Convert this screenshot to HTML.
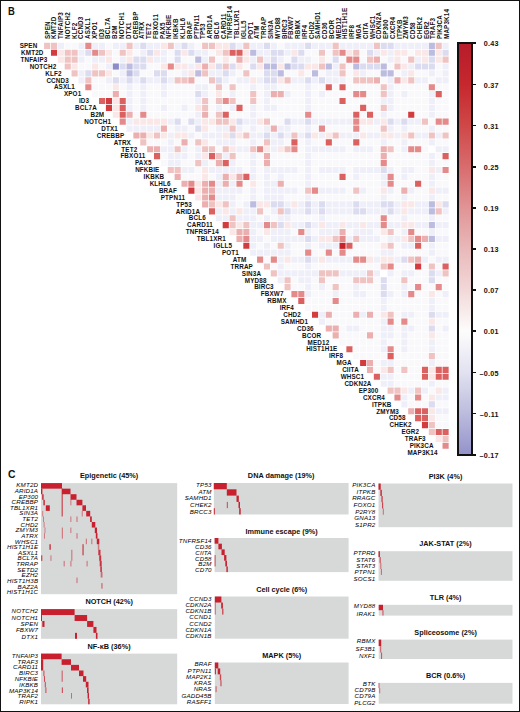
<!DOCTYPE html><html><head><meta charset="utf-8"><style>
*{margin:0;padding:0;box-sizing:border-box}
html,body{width:520px;height:712px;background:#fff;overflow:hidden}
body{position:relative;font-family:"Liberation Sans",sans-serif;color:#111}
#frame{position:absolute;left:0;top:0;width:520px;height:712px;border:1.2px solid #111}
.a{position:absolute;white-space:nowrap}
.rl{font-weight:bold;font-size:6.3px;line-height:6.3px;text-align:right;width:80px;letter-spacing:0.15px}
.cl{font-weight:bold;font-size:6.3px;line-height:6.3px;transform-origin:0 0;transform:rotate(-90deg);letter-spacing:0.15px}
.c{position:absolute}
.tk{font-weight:bold;font-size:7.2px;line-height:7.2px;text-align:right;width:30px;letter-spacing:0.3px}
.tt{font-weight:bold;font-size:7.3px;line-height:7.5px;text-align:center;width:140px}
.gl{font-style:italic;font-size:6.2px;line-height:6.2px;text-align:right;width:60px;color:#000;letter-spacing:0.2px}
.g{position:absolute;background:#d7d9d9}
.m{position:absolute;background:#c8202e}

</style></head><body>
<div id="frame"></div>
<div class="a" style="left:7.9px;top:4.6px;font-weight:bold;font-size:11.8px;line-height:12px;transform:scaleX(0.8);transform-origin:0 0">B</div>
<div class="a" style="left:7.6px;top:468.4px;font-weight:bold;font-size:11.8px;line-height:12px;transform:scaleX(0.88);transform-origin:0 0">C</div>
<svg class="a" style="left:0;top:0" width="520" height="460" viewBox="0 0 520 460"><path fill="#f0c3c3" d="M44.08 42.77h6.12v6.14h-6.12zM50.95 42.77h6.12v6.14h-6.12zM126.52 42.77h6.12v6.14h-6.12zM167.74 42.77h6.12v6.14h-6.12zM202.08 42.77h6.12v6.14h-6.12zM208.95 42.77h6.12v6.14h-6.12zM243.31 42.77h6.12v6.14h-6.12zM332.62 42.77h6.12v6.14h-6.12zM373.83 42.77h6.12v6.14h-6.12zM435.67 42.77h6.12v6.14h-6.12zM64.69 49.67h6.12v6.14h-6.12zM71.56 49.67h6.12v6.14h-6.12zM99.03 49.67h6.12v6.14h-6.12zM119.65 49.67h6.12v6.14h-6.12zM222.69 49.67h6.12v6.14h-6.12zM318.88 49.67h6.12v6.14h-6.12zM332.62 49.67h6.12v6.14h-6.12zM353.22 49.67h6.12v6.14h-6.12zM64.69 56.56h6.12v6.14h-6.12zM71.56 56.56h6.12v6.14h-6.12zM208.95 56.56h6.12v6.14h-6.12zM257.05 56.56h6.12v6.14h-6.12zM366.96 56.56h6.12v6.14h-6.12zM408.19 56.56h6.12v6.14h-6.12zM442.53 56.56h6.12v6.14h-6.12zM64.69 63.46h6.12v6.14h-6.12zM222.69 63.46h6.12v6.14h-6.12zM318.88 63.46h6.12v6.14h-6.12zM339.49 63.46h6.12v6.14h-6.12zM394.44 63.46h6.12v6.14h-6.12zM71.56 70.35h6.12v6.14h-6.12zM92.17 70.35h6.12v6.14h-6.12zM99.03 70.35h6.12v6.14h-6.12zM202.08 70.35h6.12v6.14h-6.12zM243.31 70.35h6.12v6.14h-6.12zM339.49 70.35h6.12v6.14h-6.12zM85.30 77.25h6.12v6.14h-6.12zM174.61 77.25h6.12v6.14h-6.12zM181.48 77.25h6.12v6.14h-6.12zM208.95 77.25h6.12v6.14h-6.12zM284.53 77.25h6.12v6.14h-6.12zM353.22 77.25h6.12v6.14h-6.12zM360.09 77.25h6.12v6.14h-6.12zM366.96 77.25h6.12v6.14h-6.12zM408.19 77.25h6.12v6.14h-6.12zM215.82 84.14h6.12v6.14h-6.12zM229.56 84.14h6.12v6.14h-6.12zM380.70 84.14h6.12v6.14h-6.12zM250.18 91.04h6.12v6.14h-6.12zM380.70 91.04h6.12v6.14h-6.12zM202.08 97.94h6.12v6.14h-6.12zM215.82 97.94h6.12v6.14h-6.12zM229.56 97.94h6.12v6.14h-6.12zM250.18 97.94h6.12v6.14h-6.12zM202.08 104.83h6.12v6.14h-6.12zM380.70 104.83h6.12v6.14h-6.12zM215.82 111.72h6.12v6.14h-6.12zM215.82 118.62h6.12v6.14h-6.12zM222.69 118.62h6.12v6.14h-6.12zM263.92 118.62h6.12v6.14h-6.12zM421.93 118.62h6.12v6.14h-6.12zM229.56 125.51h6.12v6.14h-6.12zM380.70 125.51h6.12v6.14h-6.12zM154.00 132.41h6.12v6.14h-6.12zM243.31 132.41h6.12v6.14h-6.12zM291.39 132.41h6.12v6.14h-6.12zM332.62 132.41h6.12v6.14h-6.12zM408.19 132.41h6.12v6.14h-6.12zM428.80 132.41h6.12v6.14h-6.12zM442.53 132.41h6.12v6.14h-6.12zM140.25 139.31h6.12v6.14h-6.12zM195.22 139.31h6.12v6.14h-6.12zM263.92 139.31h6.12v6.14h-6.12zM174.61 146.20h6.12v6.14h-6.12zM202.08 146.20h6.12v6.14h-6.12zM208.95 146.20h6.12v6.14h-6.12zM222.69 146.20h6.12v6.14h-6.12zM250.18 146.20h6.12v6.14h-6.12zM284.53 146.20h6.12v6.14h-6.12zM387.57 146.20h6.12v6.14h-6.12zM215.82 153.09h6.12v6.14h-6.12zM229.56 153.09h6.12v6.14h-6.12zM195.22 159.99h6.12v6.14h-6.12zM167.74 166.88h6.12v6.14h-6.12zM174.61 166.88h6.12v6.14h-6.12zM305.13 187.57h6.12v6.14h-6.12zM353.22 187.57h6.12v6.14h-6.12zM208.95 201.36h6.12v6.14h-6.12zM222.69 201.36h6.12v6.14h-6.12zM257.05 208.25h6.12v6.14h-6.12zM277.66 208.25h6.12v6.14h-6.12zM435.67 208.25h6.12v6.14h-6.12zM229.56 215.15h6.12v6.14h-6.12zM229.56 222.04h6.12v6.14h-6.12zM243.31 222.04h6.12v6.14h-6.12zM270.79 222.04h6.12v6.14h-6.12zM387.57 228.94h6.12v6.14h-6.12zM332.62 235.84h6.12v6.14h-6.12zM353.22 235.84h6.12v6.14h-6.12zM408.19 235.84h6.12v6.14h-6.12zM277.66 242.73h6.12v6.14h-6.12zM387.57 242.73h6.12v6.14h-6.12zM408.19 256.52h6.12v6.14h-6.12zM263.92 263.41h6.12v6.14h-6.12zM380.70 263.41h6.12v6.14h-6.12zM428.80 263.41h6.12v6.14h-6.12zM270.79 270.31h6.12v6.14h-6.12zM318.88 270.31h6.12v6.14h-6.12zM325.75 270.31h6.12v6.14h-6.12zM332.62 270.31h6.12v6.14h-6.12zM366.96 270.31h6.12v6.14h-6.12zM442.53 270.31h6.12v6.14h-6.12zM284.53 277.20h6.12v6.14h-6.12zM318.88 277.20h6.12v6.14h-6.12zM353.22 277.20h6.12v6.14h-6.12zM360.09 277.20h6.12v6.14h-6.12zM366.96 277.20h6.12v6.14h-6.12zM401.31 277.20h6.12v6.14h-6.12zM284.53 284.10h6.12v6.14h-6.12zM332.62 284.10h6.12v6.14h-6.12zM387.57 311.68h6.12v6.14h-6.12zM428.80 353.05h6.12v6.14h-6.12zM387.57 366.84h6.12v6.14h-6.12zM401.31 366.84h6.12v6.14h-6.12zM387.57 387.52h6.12v6.14h-6.12zM394.44 387.52h6.12v6.14h-6.12zM415.06 387.52h6.12v6.14h-6.12zM428.80 422.00h6.12v6.14h-6.12zM428.80 428.89h6.12v6.14h-6.12zM442.53 435.79h6.12v6.14h-6.12z"/><path fill="#efeff9" d="M57.82 42.77h6.12v6.14h-6.12zM78.43 42.77h6.12v6.14h-6.12zM92.17 42.77h6.12v6.14h-6.12zM99.03 42.77h6.12v6.14h-6.12zM112.78 42.77h6.12v6.14h-6.12zM119.65 42.77h6.12v6.14h-6.12zM133.38 42.77h6.12v6.14h-6.12zM147.12 42.77h6.12v6.14h-6.12zM154.00 42.77h6.12v6.14h-6.12zM174.61 42.77h6.12v6.14h-6.12zM188.35 42.77h6.12v6.14h-6.12zM236.44 42.77h6.12v6.14h-6.12zM250.18 42.77h6.12v6.14h-6.12zM257.05 42.77h6.12v6.14h-6.12zM270.79 42.77h6.12v6.14h-6.12zM284.53 42.77h6.12v6.14h-6.12zM291.39 42.77h6.12v6.14h-6.12zM298.26 42.77h6.12v6.14h-6.12zM312.00 42.77h6.12v6.14h-6.12zM318.88 42.77h6.12v6.14h-6.12zM325.75 42.77h6.12v6.14h-6.12zM339.49 42.77h6.12v6.14h-6.12zM346.36 42.77h6.12v6.14h-6.12zM353.22 42.77h6.12v6.14h-6.12zM360.09 42.77h6.12v6.14h-6.12zM366.96 42.77h6.12v6.14h-6.12zM394.44 42.77h6.12v6.14h-6.12zM401.31 42.77h6.12v6.14h-6.12zM408.19 42.77h6.12v6.14h-6.12zM415.06 42.77h6.12v6.14h-6.12zM421.93 42.77h6.12v6.14h-6.12zM442.53 42.77h6.12v6.14h-6.12zM78.43 49.67h6.12v6.14h-6.12zM140.25 49.67h6.12v6.14h-6.12zM160.87 49.67h6.12v6.14h-6.12zM195.22 49.67h6.12v6.14h-6.12zM202.08 49.67h6.12v6.14h-6.12zM257.05 49.67h6.12v6.14h-6.12zM263.92 49.67h6.12v6.14h-6.12zM284.53 49.67h6.12v6.14h-6.12zM373.83 49.67h6.12v6.14h-6.12zM387.57 49.67h6.12v6.14h-6.12zM78.43 56.56h6.12v6.14h-6.12zM92.17 56.56h6.12v6.14h-6.12zM99.03 56.56h6.12v6.14h-6.12zM119.65 56.56h6.12v6.14h-6.12zM154.00 56.56h6.12v6.14h-6.12zM160.87 56.56h6.12v6.14h-6.12zM202.08 56.56h6.12v6.14h-6.12zM250.18 56.56h6.12v6.14h-6.12zM263.92 56.56h6.12v6.14h-6.12zM277.66 56.56h6.12v6.14h-6.12zM298.26 56.56h6.12v6.14h-6.12zM305.13 56.56h6.12v6.14h-6.12zM387.57 56.56h6.12v6.14h-6.12zM415.06 56.56h6.12v6.14h-6.12zM105.91 63.46h6.12v6.14h-6.12zM188.35 63.46h6.12v6.14h-6.12zM332.62 63.46h6.12v6.14h-6.12zM408.19 63.46h6.12v6.14h-6.12zM442.53 63.46h6.12v6.14h-6.12zM78.43 70.35h6.12v6.14h-6.12zM119.65 70.35h6.12v6.14h-6.12zM181.48 70.35h6.12v6.14h-6.12zM208.95 70.35h6.12v6.14h-6.12zM215.82 70.35h6.12v6.14h-6.12zM229.56 70.35h6.12v6.14h-6.12zM325.75 70.35h6.12v6.14h-6.12zM332.62 70.35h6.12v6.14h-6.12zM360.09 70.35h6.12v6.14h-6.12zM401.31 70.35h6.12v6.14h-6.12zM428.80 70.35h6.12v6.14h-6.12zM442.53 70.35h6.12v6.14h-6.12zM78.43 77.25h6.12v6.14h-6.12zM105.91 77.25h6.12v6.14h-6.12zM119.65 77.25h6.12v6.14h-6.12zM133.38 77.25h6.12v6.14h-6.12zM147.12 77.25h6.12v6.14h-6.12zM154.00 77.25h6.12v6.14h-6.12zM167.74 77.25h6.12v6.14h-6.12zM222.69 77.25h6.12v6.14h-6.12zM236.44 77.25h6.12v6.14h-6.12zM243.31 77.25h6.12v6.14h-6.12zM257.05 77.25h6.12v6.14h-6.12zM291.39 77.25h6.12v6.14h-6.12zM298.26 77.25h6.12v6.14h-6.12zM312.00 77.25h6.12v6.14h-6.12zM325.75 77.25h6.12v6.14h-6.12zM332.62 77.25h6.12v6.14h-6.12zM339.49 77.25h6.12v6.14h-6.12zM387.57 77.25h6.12v6.14h-6.12zM415.06 77.25h6.12v6.14h-6.12zM421.93 77.25h6.12v6.14h-6.12zM435.67 77.25h6.12v6.14h-6.12zM442.53 77.25h6.12v6.14h-6.12zM126.52 84.14h6.12v6.14h-6.12zM140.25 84.14h6.12v6.14h-6.12zM160.87 84.14h6.12v6.14h-6.12zM195.22 84.14h6.12v6.14h-6.12zM202.08 84.14h6.12v6.14h-6.12zM250.18 84.14h6.12v6.14h-6.12zM263.92 84.14h6.12v6.14h-6.12zM270.79 84.14h6.12v6.14h-6.12zM305.13 84.14h6.12v6.14h-6.12zM387.57 84.14h6.12v6.14h-6.12zM126.52 91.04h6.12v6.14h-6.12zM140.25 91.04h6.12v6.14h-6.12zM160.87 91.04h6.12v6.14h-6.12zM202.08 91.04h6.12v6.14h-6.12zM229.56 91.04h6.12v6.14h-6.12zM263.92 91.04h6.12v6.14h-6.12zM284.53 91.04h6.12v6.14h-6.12zM305.13 91.04h6.12v6.14h-6.12zM318.88 91.04h6.12v6.14h-6.12zM387.57 91.04h6.12v6.14h-6.12zM401.31 91.04h6.12v6.14h-6.12zM428.80 91.04h6.12v6.14h-6.12zM126.52 97.94h6.12v6.14h-6.12zM140.25 97.94h6.12v6.14h-6.12zM195.22 97.94h6.12v6.14h-6.12zM263.92 97.94h6.12v6.14h-6.12zM305.13 97.94h6.12v6.14h-6.12zM380.70 97.94h6.12v6.14h-6.12zM387.57 97.94h6.12v6.14h-6.12zM428.80 97.94h6.12v6.14h-6.12zM126.52 104.83h6.12v6.14h-6.12zM140.25 104.83h6.12v6.14h-6.12zM160.87 104.83h6.12v6.14h-6.12zM181.48 104.83h6.12v6.14h-6.12zM215.82 104.83h6.12v6.14h-6.12zM229.56 104.83h6.12v6.14h-6.12zM250.18 104.83h6.12v6.14h-6.12zM263.92 104.83h6.12v6.14h-6.12zM270.79 104.83h6.12v6.14h-6.12zM305.13 104.83h6.12v6.14h-6.12zM387.57 104.83h6.12v6.14h-6.12zM428.80 104.83h6.12v6.14h-6.12zM195.22 111.72h6.12v6.14h-6.12zM250.18 111.72h6.12v6.14h-6.12zM380.70 111.72h6.12v6.14h-6.12zM428.80 111.72h6.12v6.14h-6.12zM126.52 118.62h6.12v6.14h-6.12zM167.74 118.62h6.12v6.14h-6.12zM195.22 118.62h6.12v6.14h-6.12zM243.31 118.62h6.12v6.14h-6.12zM250.18 118.62h6.12v6.14h-6.12zM291.39 118.62h6.12v6.14h-6.12zM298.26 118.62h6.12v6.14h-6.12zM312.00 118.62h6.12v6.14h-6.12zM318.88 118.62h6.12v6.14h-6.12zM325.75 118.62h6.12v6.14h-6.12zM332.62 118.62h6.12v6.14h-6.12zM339.49 118.62h6.12v6.14h-6.12zM346.36 118.62h6.12v6.14h-6.12zM373.83 118.62h6.12v6.14h-6.12zM394.44 118.62h6.12v6.14h-6.12zM408.19 118.62h6.12v6.14h-6.12zM415.06 118.62h6.12v6.14h-6.12zM126.52 125.51h6.12v6.14h-6.12zM133.38 125.51h6.12v6.14h-6.12zM140.25 125.51h6.12v6.14h-6.12zM147.12 125.51h6.12v6.14h-6.12zM154.00 125.51h6.12v6.14h-6.12zM174.61 125.51h6.12v6.14h-6.12zM181.48 125.51h6.12v6.14h-6.12zM215.82 125.51h6.12v6.14h-6.12zM222.69 125.51h6.12v6.14h-6.12zM236.44 125.51h6.12v6.14h-6.12zM250.18 125.51h6.12v6.14h-6.12zM263.92 125.51h6.12v6.14h-6.12zM277.66 125.51h6.12v6.14h-6.12zM284.53 125.51h6.12v6.14h-6.12zM305.13 125.51h6.12v6.14h-6.12zM387.57 125.51h6.12v6.14h-6.12zM401.31 125.51h6.12v6.14h-6.12zM428.80 125.51h6.12v6.14h-6.12zM167.74 132.41h6.12v6.14h-6.12zM188.35 132.41h6.12v6.14h-6.12zM202.08 132.41h6.12v6.14h-6.12zM208.95 132.41h6.12v6.14h-6.12zM215.82 132.41h6.12v6.14h-6.12zM250.18 132.41h6.12v6.14h-6.12zM257.05 132.41h6.12v6.14h-6.12zM270.79 132.41h6.12v6.14h-6.12zM284.53 132.41h6.12v6.14h-6.12zM298.26 132.41h6.12v6.14h-6.12zM318.88 132.41h6.12v6.14h-6.12zM339.49 132.41h6.12v6.14h-6.12zM346.36 132.41h6.12v6.14h-6.12zM353.22 132.41h6.12v6.14h-6.12zM366.96 132.41h6.12v6.14h-6.12zM373.83 132.41h6.12v6.14h-6.12zM394.44 132.41h6.12v6.14h-6.12zM415.06 132.41h6.12v6.14h-6.12zM421.93 132.41h6.12v6.14h-6.12zM435.67 132.41h6.12v6.14h-6.12zM167.74 139.31h6.12v6.14h-6.12zM215.82 139.31h6.12v6.14h-6.12zM222.69 139.31h6.12v6.14h-6.12zM229.56 139.31h6.12v6.14h-6.12zM250.18 139.31h6.12v6.14h-6.12zM270.79 139.31h6.12v6.14h-6.12zM277.66 139.31h6.12v6.14h-6.12zM305.13 139.31h6.12v6.14h-6.12zM380.70 139.31h6.12v6.14h-6.12zM401.31 139.31h6.12v6.14h-6.12zM428.80 139.31h6.12v6.14h-6.12zM160.87 146.20h6.12v6.14h-6.12zM167.74 146.20h6.12v6.14h-6.12zM181.48 146.20h6.12v6.14h-6.12zM195.22 146.20h6.12v6.14h-6.12zM236.44 146.20h6.12v6.14h-6.12zM243.31 146.20h6.12v6.14h-6.12zM270.79 146.20h6.12v6.14h-6.12zM305.13 146.20h6.12v6.14h-6.12zM312.00 146.20h6.12v6.14h-6.12zM318.88 146.20h6.12v6.14h-6.12zM325.75 146.20h6.12v6.14h-6.12zM332.62 146.20h6.12v6.14h-6.12zM339.49 146.20h6.12v6.14h-6.12zM353.22 146.20h6.12v6.14h-6.12zM360.09 146.20h6.12v6.14h-6.12zM366.96 146.20h6.12v6.14h-6.12zM401.31 146.20h6.12v6.14h-6.12zM435.67 146.20h6.12v6.14h-6.12zM442.53 146.20h6.12v6.14h-6.12zM167.74 153.09h6.12v6.14h-6.12zM174.61 153.09h6.12v6.14h-6.12zM181.48 153.09h6.12v6.14h-6.12zM195.22 153.09h6.12v6.14h-6.12zM222.69 153.09h6.12v6.14h-6.12zM250.18 153.09h6.12v6.14h-6.12zM305.13 153.09h6.12v6.14h-6.12zM428.80 153.09h6.12v6.14h-6.12zM167.74 159.99h6.12v6.14h-6.12zM174.61 159.99h6.12v6.14h-6.12zM202.08 159.99h6.12v6.14h-6.12zM229.56 159.99h6.12v6.14h-6.12zM250.18 159.99h6.12v6.14h-6.12zM305.13 159.99h6.12v6.14h-6.12zM428.80 159.99h6.12v6.14h-6.12zM181.48 166.88h6.12v6.14h-6.12zM188.35 166.88h6.12v6.14h-6.12zM208.95 166.88h6.12v6.14h-6.12zM215.82 166.88h6.12v6.14h-6.12zM222.69 166.88h6.12v6.14h-6.12zM229.56 166.88h6.12v6.14h-6.12zM236.44 166.88h6.12v6.14h-6.12zM250.18 166.88h6.12v6.14h-6.12zM263.92 166.88h6.12v6.14h-6.12zM270.79 166.88h6.12v6.14h-6.12zM277.66 166.88h6.12v6.14h-6.12zM284.53 166.88h6.12v6.14h-6.12zM291.39 166.88h6.12v6.14h-6.12zM305.13 166.88h6.12v6.14h-6.12zM318.88 166.88h6.12v6.14h-6.12zM325.75 166.88h6.12v6.14h-6.12zM332.62 166.88h6.12v6.14h-6.12zM339.49 166.88h6.12v6.14h-6.12zM353.22 166.88h6.12v6.14h-6.12zM360.09 166.88h6.12v6.14h-6.12zM366.96 166.88h6.12v6.14h-6.12zM373.83 166.88h6.12v6.14h-6.12zM387.57 166.88h6.12v6.14h-6.12zM401.31 166.88h6.12v6.14h-6.12zM408.19 166.88h6.12v6.14h-6.12zM435.67 166.88h6.12v6.14h-6.12zM215.82 173.78h6.12v6.14h-6.12zM250.18 173.78h6.12v6.14h-6.12zM263.92 173.78h6.12v6.14h-6.12zM277.66 173.78h6.12v6.14h-6.12zM305.13 173.78h6.12v6.14h-6.12zM353.22 173.78h6.12v6.14h-6.12zM380.70 173.78h6.12v6.14h-6.12zM401.31 173.78h6.12v6.14h-6.12zM428.80 173.78h6.12v6.14h-6.12zM215.82 180.67h6.12v6.14h-6.12zM229.56 180.67h6.12v6.14h-6.12zM263.92 180.67h6.12v6.14h-6.12zM270.79 180.67h6.12v6.14h-6.12zM305.13 180.67h6.12v6.14h-6.12zM380.70 180.67h6.12v6.14h-6.12zM428.80 180.67h6.12v6.14h-6.12zM215.82 187.57h6.12v6.14h-6.12zM222.69 187.57h6.12v6.14h-6.12zM229.56 187.57h6.12v6.14h-6.12zM236.44 187.57h6.12v6.14h-6.12zM250.18 187.57h6.12v6.14h-6.12zM263.92 187.57h6.12v6.14h-6.12zM270.79 187.57h6.12v6.14h-6.12zM277.66 187.57h6.12v6.14h-6.12zM284.53 187.57h6.12v6.14h-6.12zM291.39 187.57h6.12v6.14h-6.12zM318.88 187.57h6.12v6.14h-6.12zM325.75 187.57h6.12v6.14h-6.12zM332.62 187.57h6.12v6.14h-6.12zM339.49 187.57h6.12v6.14h-6.12zM360.09 187.57h6.12v6.14h-6.12zM387.57 187.57h6.12v6.14h-6.12zM408.19 187.57h6.12v6.14h-6.12zM435.67 187.57h6.12v6.14h-6.12zM442.53 187.57h6.12v6.14h-6.12zM215.82 194.47h6.12v6.14h-6.12zM222.69 194.47h6.12v6.14h-6.12zM229.56 194.47h6.12v6.14h-6.12zM250.18 194.47h6.12v6.14h-6.12zM263.92 194.47h6.12v6.14h-6.12zM270.79 194.47h6.12v6.14h-6.12zM277.66 194.47h6.12v6.14h-6.12zM305.13 194.47h6.12v6.14h-6.12zM380.70 194.47h6.12v6.14h-6.12zM401.31 194.47h6.12v6.14h-6.12zM428.80 194.47h6.12v6.14h-6.12zM229.56 201.36h6.12v6.14h-6.12zM243.31 201.36h6.12v6.14h-6.12zM284.53 201.36h6.12v6.14h-6.12zM298.26 201.36h6.12v6.14h-6.12zM312.00 201.36h6.12v6.14h-6.12zM325.75 201.36h6.12v6.14h-6.12zM332.62 201.36h6.12v6.14h-6.12zM339.49 201.36h6.12v6.14h-6.12zM346.36 201.36h6.12v6.14h-6.12zM360.09 201.36h6.12v6.14h-6.12zM366.96 201.36h6.12v6.14h-6.12zM373.83 201.36h6.12v6.14h-6.12zM394.44 201.36h6.12v6.14h-6.12zM415.06 201.36h6.12v6.14h-6.12zM421.93 201.36h6.12v6.14h-6.12zM215.82 208.25h6.12v6.14h-6.12zM229.56 208.25h6.12v6.14h-6.12zM243.31 208.25h6.12v6.14h-6.12zM250.18 208.25h6.12v6.14h-6.12zM270.79 208.25h6.12v6.14h-6.12zM291.39 208.25h6.12v6.14h-6.12zM298.26 208.25h6.12v6.14h-6.12zM312.00 208.25h6.12v6.14h-6.12zM325.75 208.25h6.12v6.14h-6.12zM332.62 208.25h6.12v6.14h-6.12zM339.49 208.25h6.12v6.14h-6.12zM346.36 208.25h6.12v6.14h-6.12zM366.96 208.25h6.12v6.14h-6.12zM373.83 208.25h6.12v6.14h-6.12zM380.70 208.25h6.12v6.14h-6.12zM394.44 208.25h6.12v6.14h-6.12zM408.19 208.25h6.12v6.14h-6.12zM415.06 208.25h6.12v6.14h-6.12zM421.93 208.25h6.12v6.14h-6.12zM442.53 208.25h6.12v6.14h-6.12zM215.82 215.15h6.12v6.14h-6.12zM222.69 215.15h6.12v6.14h-6.12zM236.44 215.15h6.12v6.14h-6.12zM243.31 215.15h6.12v6.14h-6.12zM250.18 215.15h6.12v6.14h-6.12zM263.92 215.15h6.12v6.14h-6.12zM277.66 215.15h6.12v6.14h-6.12zM284.53 215.15h6.12v6.14h-6.12zM318.88 215.15h6.12v6.14h-6.12zM401.31 215.15h6.12v6.14h-6.12zM428.80 215.15h6.12v6.14h-6.12zM250.18 222.04h6.12v6.14h-6.12zM257.05 222.04h6.12v6.14h-6.12zM291.39 222.04h6.12v6.14h-6.12zM298.26 222.04h6.12v6.14h-6.12zM312.00 222.04h6.12v6.14h-6.12zM325.75 222.04h6.12v6.14h-6.12zM332.62 222.04h6.12v6.14h-6.12zM346.36 222.04h6.12v6.14h-6.12zM353.22 222.04h6.12v6.14h-6.12zM366.96 222.04h6.12v6.14h-6.12zM373.83 222.04h6.12v6.14h-6.12zM387.57 222.04h6.12v6.14h-6.12zM394.44 222.04h6.12v6.14h-6.12zM415.06 222.04h6.12v6.14h-6.12zM421.93 222.04h6.12v6.14h-6.12zM435.67 222.04h6.12v6.14h-6.12zM442.53 222.04h6.12v6.14h-6.12zM250.18 228.94h6.12v6.14h-6.12zM270.79 228.94h6.12v6.14h-6.12zM277.66 228.94h6.12v6.14h-6.12zM284.53 228.94h6.12v6.14h-6.12zM305.13 228.94h6.12v6.14h-6.12zM318.88 228.94h6.12v6.14h-6.12zM325.75 228.94h6.12v6.14h-6.12zM332.62 228.94h6.12v6.14h-6.12zM353.22 228.94h6.12v6.14h-6.12zM360.09 228.94h6.12v6.14h-6.12zM366.96 228.94h6.12v6.14h-6.12zM401.31 228.94h6.12v6.14h-6.12zM428.80 228.94h6.12v6.14h-6.12zM250.18 235.84h6.12v6.14h-6.12zM257.05 235.84h6.12v6.14h-6.12zM270.79 235.84h6.12v6.14h-6.12zM277.66 235.84h6.12v6.14h-6.12zM284.53 235.84h6.12v6.14h-6.12zM291.39 235.84h6.12v6.14h-6.12zM298.26 235.84h6.12v6.14h-6.12zM312.00 235.84h6.12v6.14h-6.12zM346.36 235.84h6.12v6.14h-6.12zM360.09 235.84h6.12v6.14h-6.12zM366.96 235.84h6.12v6.14h-6.12zM373.83 235.84h6.12v6.14h-6.12zM387.57 235.84h6.12v6.14h-6.12zM394.44 235.84h6.12v6.14h-6.12zM435.67 235.84h6.12v6.14h-6.12zM442.53 235.84h6.12v6.14h-6.12zM250.18 242.73h6.12v6.14h-6.12zM263.92 242.73h6.12v6.14h-6.12zM284.53 242.73h6.12v6.14h-6.12zM305.13 242.73h6.12v6.14h-6.12zM318.88 242.73h6.12v6.14h-6.12zM325.75 242.73h6.12v6.14h-6.12zM332.62 242.73h6.12v6.14h-6.12zM401.31 242.73h6.12v6.14h-6.12zM408.19 242.73h6.12v6.14h-6.12zM428.80 242.73h6.12v6.14h-6.12zM250.18 249.62h6.12v6.14h-6.12zM257.05 249.62h6.12v6.14h-6.12zM263.92 249.62h6.12v6.14h-6.12zM270.79 249.62h6.12v6.14h-6.12zM277.66 249.62h6.12v6.14h-6.12zM284.53 249.62h6.12v6.14h-6.12zM380.70 249.62h6.12v6.14h-6.12zM387.57 249.62h6.12v6.14h-6.12zM428.80 249.62h6.12v6.14h-6.12zM277.66 256.52h6.12v6.14h-6.12zM291.39 256.52h6.12v6.14h-6.12zM298.26 256.52h6.12v6.14h-6.12zM312.00 256.52h6.12v6.14h-6.12zM325.75 256.52h6.12v6.14h-6.12zM332.62 256.52h6.12v6.14h-6.12zM339.49 256.52h6.12v6.14h-6.12zM346.36 256.52h6.12v6.14h-6.12zM373.83 256.52h6.12v6.14h-6.12zM394.44 256.52h6.12v6.14h-6.12zM421.93 256.52h6.12v6.14h-6.12zM435.67 256.52h6.12v6.14h-6.12zM442.53 256.52h6.12v6.14h-6.12zM277.66 263.41h6.12v6.14h-6.12zM305.13 263.41h6.12v6.14h-6.12zM277.66 270.31h6.12v6.14h-6.12zM284.53 270.31h6.12v6.14h-6.12zM291.39 270.31h6.12v6.14h-6.12zM298.26 270.31h6.12v6.14h-6.12zM305.13 270.31h6.12v6.14h-6.12zM312.00 270.31h6.12v6.14h-6.12zM339.49 270.31h6.12v6.14h-6.12zM346.36 270.31h6.12v6.14h-6.12zM353.22 270.31h6.12v6.14h-6.12zM360.09 270.31h6.12v6.14h-6.12zM373.83 270.31h6.12v6.14h-6.12zM387.57 270.31h6.12v6.14h-6.12zM401.31 270.31h6.12v6.14h-6.12zM408.19 270.31h6.12v6.14h-6.12zM435.67 270.31h6.12v6.14h-6.12zM277.66 277.20h6.12v6.14h-6.12zM298.26 277.20h6.12v6.14h-6.12zM305.13 277.20h6.12v6.14h-6.12zM305.13 284.10h6.12v6.14h-6.12zM318.88 284.10h6.12v6.14h-6.12zM353.22 284.10h6.12v6.14h-6.12zM401.31 284.10h6.12v6.14h-6.12zM305.13 290.99h6.12v6.14h-6.12zM332.62 290.99h6.12v6.14h-6.12zM353.22 290.99h6.12v6.14h-6.12zM360.09 290.99h6.12v6.14h-6.12zM387.57 290.99h6.12v6.14h-6.12zM401.31 290.99h6.12v6.14h-6.12zM442.53 290.99h6.12v6.14h-6.12zM380.70 297.89h6.12v6.14h-6.12zM428.80 297.89h6.12v6.14h-6.12zM380.70 304.78h6.12v6.14h-6.12zM428.80 304.78h6.12v6.14h-6.12zM318.88 311.68h6.12v6.14h-6.12zM360.09 311.68h6.12v6.14h-6.12zM401.31 311.68h6.12v6.14h-6.12zM408.19 311.68h6.12v6.14h-6.12zM435.67 311.68h6.12v6.14h-6.12zM442.53 311.68h6.12v6.14h-6.12zM318.88 318.57h6.12v6.14h-6.12zM380.70 318.57h6.12v6.14h-6.12zM346.36 325.47h6.12v6.14h-6.12zM353.22 325.47h6.12v6.14h-6.12zM380.70 325.47h6.12v6.14h-6.12zM387.57 325.47h6.12v6.14h-6.12zM401.31 325.47h6.12v6.14h-6.12zM408.19 325.47h6.12v6.14h-6.12zM442.53 325.47h6.12v6.14h-6.12zM380.70 332.36h6.12v6.14h-6.12zM387.57 332.36h6.12v6.14h-6.12zM401.31 332.36h6.12v6.14h-6.12zM380.70 339.26h6.12v6.14h-6.12zM401.31 339.26h6.12v6.14h-6.12zM428.80 339.26h6.12v6.14h-6.12zM380.70 346.15h6.12v6.14h-6.12zM401.31 346.15h6.12v6.14h-6.12zM428.80 346.15h6.12v6.14h-6.12zM380.70 359.94h6.12v6.14h-6.12zM387.57 359.94h6.12v6.14h-6.12zM428.80 359.94h6.12v6.14h-6.12zM380.70 373.73h6.12v6.14h-6.12zM387.57 373.73h6.12v6.14h-6.12zM380.70 380.63h6.12v6.14h-6.12zM387.57 380.63h6.12v6.14h-6.12zM428.80 380.63h6.12v6.14h-6.12zM408.19 387.52h6.12v6.14h-6.12zM421.93 387.52h6.12v6.14h-6.12zM442.53 387.52h6.12v6.14h-6.12zM401.31 394.42h6.12v6.14h-6.12zM435.67 394.42h6.12v6.14h-6.12zM442.53 394.42h6.12v6.14h-6.12zM401.31 401.31h6.12v6.14h-6.12zM435.67 408.21h6.12v6.14h-6.12zM442.53 408.21h6.12v6.14h-6.12z"/><path fill="#f9f9fc" d="M64.69 42.77h6.12v6.14h-6.12zM71.56 42.77h6.12v6.14h-6.12zM105.91 42.77h6.12v6.14h-6.12zM195.22 42.77h6.12v6.14h-6.12zM277.66 42.77h6.12v6.14h-6.12zM112.78 49.67h6.12v6.14h-6.12zM133.38 49.67h6.12v6.14h-6.12zM167.74 49.67h6.12v6.14h-6.12zM208.95 49.67h6.12v6.14h-6.12zM305.13 49.67h6.12v6.14h-6.12zM312.00 49.67h6.12v6.14h-6.12zM325.75 49.67h6.12v6.14h-6.12zM360.09 49.67h6.12v6.14h-6.12zM408.19 49.67h6.12v6.14h-6.12zM85.30 56.56h6.12v6.14h-6.12zM112.78 56.56h6.12v6.14h-6.12zM167.74 56.56h6.12v6.14h-6.12zM181.48 56.56h6.12v6.14h-6.12zM188.35 56.56h6.12v6.14h-6.12zM215.82 56.56h6.12v6.14h-6.12zM229.56 56.56h6.12v6.14h-6.12zM284.53 56.56h6.12v6.14h-6.12zM312.00 56.56h6.12v6.14h-6.12zM325.75 56.56h6.12v6.14h-6.12zM339.49 56.56h6.12v6.14h-6.12zM360.09 56.56h6.12v6.14h-6.12zM380.70 56.56h6.12v6.14h-6.12zM401.31 56.56h6.12v6.14h-6.12zM78.43 63.46h6.12v6.14h-6.12zM85.30 63.46h6.12v6.14h-6.12zM99.03 63.46h6.12v6.14h-6.12zM147.12 63.46h6.12v6.14h-6.12zM154.00 63.46h6.12v6.14h-6.12zM243.31 63.46h6.12v6.14h-6.12zM346.36 63.46h6.12v6.14h-6.12zM387.57 63.46h6.12v6.14h-6.12zM435.67 63.46h6.12v6.14h-6.12zM112.78 70.35h6.12v6.14h-6.12zM140.25 70.35h6.12v6.14h-6.12zM147.12 70.35h6.12v6.14h-6.12zM167.74 70.35h6.12v6.14h-6.12zM174.61 70.35h6.12v6.14h-6.12zM236.44 70.35h6.12v6.14h-6.12zM250.18 70.35h6.12v6.14h-6.12zM257.05 70.35h6.12v6.14h-6.12zM284.53 70.35h6.12v6.14h-6.12zM291.39 70.35h6.12v6.14h-6.12zM305.13 70.35h6.12v6.14h-6.12zM318.88 70.35h6.12v6.14h-6.12zM346.36 70.35h6.12v6.14h-6.12zM366.96 70.35h6.12v6.14h-6.12zM373.83 70.35h6.12v6.14h-6.12zM394.44 70.35h6.12v6.14h-6.12zM415.06 70.35h6.12v6.14h-6.12zM421.93 70.35h6.12v6.14h-6.12zM435.67 70.35h6.12v6.14h-6.12zM92.17 77.25h6.12v6.14h-6.12zM99.03 77.25h6.12v6.14h-6.12zM195.22 77.25h6.12v6.14h-6.12zM202.08 77.25h6.12v6.14h-6.12zM229.56 77.25h6.12v6.14h-6.12zM346.36 77.25h6.12v6.14h-6.12zM380.70 77.25h6.12v6.14h-6.12zM428.80 77.25h6.12v6.14h-6.12zM92.17 84.14h6.12v6.14h-6.12zM99.03 84.14h6.12v6.14h-6.12zM105.91 84.14h6.12v6.14h-6.12zM119.65 84.14h6.12v6.14h-6.12zM133.38 84.14h6.12v6.14h-6.12zM147.12 84.14h6.12v6.14h-6.12zM154.00 84.14h6.12v6.14h-6.12zM167.74 84.14h6.12v6.14h-6.12zM174.61 84.14h6.12v6.14h-6.12zM181.48 84.14h6.12v6.14h-6.12zM188.35 84.14h6.12v6.14h-6.12zM208.95 84.14h6.12v6.14h-6.12zM222.69 84.14h6.12v6.14h-6.12zM236.44 84.14h6.12v6.14h-6.12zM243.31 84.14h6.12v6.14h-6.12zM257.05 84.14h6.12v6.14h-6.12zM277.66 84.14h6.12v6.14h-6.12zM284.53 84.14h6.12v6.14h-6.12zM291.39 84.14h6.12v6.14h-6.12zM298.26 84.14h6.12v6.14h-6.12zM312.00 84.14h6.12v6.14h-6.12zM318.88 84.14h6.12v6.14h-6.12zM332.62 84.14h6.12v6.14h-6.12zM346.36 84.14h6.12v6.14h-6.12zM353.22 84.14h6.12v6.14h-6.12zM360.09 84.14h6.12v6.14h-6.12zM366.96 84.14h6.12v6.14h-6.12zM373.83 84.14h6.12v6.14h-6.12zM394.44 84.14h6.12v6.14h-6.12zM401.31 84.14h6.12v6.14h-6.12zM408.19 84.14h6.12v6.14h-6.12zM415.06 84.14h6.12v6.14h-6.12zM421.93 84.14h6.12v6.14h-6.12zM435.67 84.14h6.12v6.14h-6.12zM442.53 84.14h6.12v6.14h-6.12zM92.17 91.04h6.12v6.14h-6.12zM99.03 91.04h6.12v6.14h-6.12zM105.91 91.04h6.12v6.14h-6.12zM119.65 91.04h6.12v6.14h-6.12zM133.38 91.04h6.12v6.14h-6.12zM147.12 91.04h6.12v6.14h-6.12zM154.00 91.04h6.12v6.14h-6.12zM167.74 91.04h6.12v6.14h-6.12zM174.61 91.04h6.12v6.14h-6.12zM181.48 91.04h6.12v6.14h-6.12zM188.35 91.04h6.12v6.14h-6.12zM208.95 91.04h6.12v6.14h-6.12zM222.69 91.04h6.12v6.14h-6.12zM236.44 91.04h6.12v6.14h-6.12zM243.31 91.04h6.12v6.14h-6.12zM257.05 91.04h6.12v6.14h-6.12zM291.39 91.04h6.12v6.14h-6.12zM298.26 91.04h6.12v6.14h-6.12zM312.00 91.04h6.12v6.14h-6.12zM325.75 91.04h6.12v6.14h-6.12zM332.62 91.04h6.12v6.14h-6.12zM339.49 91.04h6.12v6.14h-6.12zM346.36 91.04h6.12v6.14h-6.12zM366.96 91.04h6.12v6.14h-6.12zM373.83 91.04h6.12v6.14h-6.12zM394.44 91.04h6.12v6.14h-6.12zM408.19 91.04h6.12v6.14h-6.12zM415.06 91.04h6.12v6.14h-6.12zM421.93 91.04h6.12v6.14h-6.12zM442.53 91.04h6.12v6.14h-6.12zM133.38 97.94h6.12v6.14h-6.12zM147.12 97.94h6.12v6.14h-6.12zM154.00 97.94h6.12v6.14h-6.12zM160.87 97.94h6.12v6.14h-6.12zM167.74 97.94h6.12v6.14h-6.12zM174.61 97.94h6.12v6.14h-6.12zM181.48 97.94h6.12v6.14h-6.12zM188.35 97.94h6.12v6.14h-6.12zM208.95 97.94h6.12v6.14h-6.12zM236.44 97.94h6.12v6.14h-6.12zM243.31 97.94h6.12v6.14h-6.12zM257.05 97.94h6.12v6.14h-6.12zM270.79 97.94h6.12v6.14h-6.12zM277.66 97.94h6.12v6.14h-6.12zM284.53 97.94h6.12v6.14h-6.12zM291.39 97.94h6.12v6.14h-6.12zM298.26 97.94h6.12v6.14h-6.12zM312.00 97.94h6.12v6.14h-6.12zM318.88 97.94h6.12v6.14h-6.12zM325.75 97.94h6.12v6.14h-6.12zM332.62 97.94h6.12v6.14h-6.12zM346.36 97.94h6.12v6.14h-6.12zM353.22 97.94h6.12v6.14h-6.12zM360.09 97.94h6.12v6.14h-6.12zM366.96 97.94h6.12v6.14h-6.12zM373.83 97.94h6.12v6.14h-6.12zM394.44 97.94h6.12v6.14h-6.12zM401.31 97.94h6.12v6.14h-6.12zM408.19 97.94h6.12v6.14h-6.12zM415.06 97.94h6.12v6.14h-6.12zM421.93 97.94h6.12v6.14h-6.12zM435.67 97.94h6.12v6.14h-6.12zM442.53 97.94h6.12v6.14h-6.12zM133.38 104.83h6.12v6.14h-6.12zM147.12 104.83h6.12v6.14h-6.12zM154.00 104.83h6.12v6.14h-6.12zM167.74 104.83h6.12v6.14h-6.12zM174.61 104.83h6.12v6.14h-6.12zM188.35 104.83h6.12v6.14h-6.12zM208.95 104.83h6.12v6.14h-6.12zM222.69 104.83h6.12v6.14h-6.12zM243.31 104.83h6.12v6.14h-6.12zM257.05 104.83h6.12v6.14h-6.12zM277.66 104.83h6.12v6.14h-6.12zM284.53 104.83h6.12v6.14h-6.12zM291.39 104.83h6.12v6.14h-6.12zM298.26 104.83h6.12v6.14h-6.12zM312.00 104.83h6.12v6.14h-6.12zM318.88 104.83h6.12v6.14h-6.12zM325.75 104.83h6.12v6.14h-6.12zM332.62 104.83h6.12v6.14h-6.12zM339.49 104.83h6.12v6.14h-6.12zM346.36 104.83h6.12v6.14h-6.12zM353.22 104.83h6.12v6.14h-6.12zM366.96 104.83h6.12v6.14h-6.12zM373.83 104.83h6.12v6.14h-6.12zM394.44 104.83h6.12v6.14h-6.12zM401.31 104.83h6.12v6.14h-6.12zM408.19 104.83h6.12v6.14h-6.12zM415.06 104.83h6.12v6.14h-6.12zM421.93 104.83h6.12v6.14h-6.12zM435.67 104.83h6.12v6.14h-6.12zM442.53 104.83h6.12v6.14h-6.12zM133.38 111.72h6.12v6.14h-6.12zM147.12 111.72h6.12v6.14h-6.12zM154.00 111.72h6.12v6.14h-6.12zM160.87 111.72h6.12v6.14h-6.12zM167.74 111.72h6.12v6.14h-6.12zM174.61 111.72h6.12v6.14h-6.12zM181.48 111.72h6.12v6.14h-6.12zM188.35 111.72h6.12v6.14h-6.12zM208.95 111.72h6.12v6.14h-6.12zM229.56 111.72h6.12v6.14h-6.12zM236.44 111.72h6.12v6.14h-6.12zM243.31 111.72h6.12v6.14h-6.12zM257.05 111.72h6.12v6.14h-6.12zM263.92 111.72h6.12v6.14h-6.12zM270.79 111.72h6.12v6.14h-6.12zM277.66 111.72h6.12v6.14h-6.12zM284.53 111.72h6.12v6.14h-6.12zM291.39 111.72h6.12v6.14h-6.12zM298.26 111.72h6.12v6.14h-6.12zM312.00 111.72h6.12v6.14h-6.12zM318.88 111.72h6.12v6.14h-6.12zM325.75 111.72h6.12v6.14h-6.12zM332.62 111.72h6.12v6.14h-6.12zM339.49 111.72h6.12v6.14h-6.12zM346.36 111.72h6.12v6.14h-6.12zM360.09 111.72h6.12v6.14h-6.12zM373.83 111.72h6.12v6.14h-6.12zM387.57 111.72h6.12v6.14h-6.12zM394.44 111.72h6.12v6.14h-6.12zM401.31 111.72h6.12v6.14h-6.12zM415.06 111.72h6.12v6.14h-6.12zM421.93 111.72h6.12v6.14h-6.12zM435.67 111.72h6.12v6.14h-6.12zM442.53 111.72h6.12v6.14h-6.12zM181.48 118.62h6.12v6.14h-6.12zM270.79 118.62h6.12v6.14h-6.12zM277.66 118.62h6.12v6.14h-6.12zM428.80 118.62h6.12v6.14h-6.12zM167.74 125.51h6.12v6.14h-6.12zM188.35 125.51h6.12v6.14h-6.12zM208.95 125.51h6.12v6.14h-6.12zM243.31 125.51h6.12v6.14h-6.12zM257.05 125.51h6.12v6.14h-6.12zM291.39 125.51h6.12v6.14h-6.12zM298.26 125.51h6.12v6.14h-6.12zM312.00 125.51h6.12v6.14h-6.12zM325.75 125.51h6.12v6.14h-6.12zM332.62 125.51h6.12v6.14h-6.12zM339.49 125.51h6.12v6.14h-6.12zM346.36 125.51h6.12v6.14h-6.12zM360.09 125.51h6.12v6.14h-6.12zM366.96 125.51h6.12v6.14h-6.12zM373.83 125.51h6.12v6.14h-6.12zM394.44 125.51h6.12v6.14h-6.12zM408.19 125.51h6.12v6.14h-6.12zM415.06 125.51h6.12v6.14h-6.12zM421.93 125.51h6.12v6.14h-6.12zM435.67 125.51h6.12v6.14h-6.12zM442.53 125.51h6.12v6.14h-6.12zM195.22 132.41h6.12v6.14h-6.12zM147.12 139.31h6.12v6.14h-6.12zM154.00 139.31h6.12v6.14h-6.12zM160.87 139.31h6.12v6.14h-6.12zM174.61 139.31h6.12v6.14h-6.12zM188.35 139.31h6.12v6.14h-6.12zM208.95 139.31h6.12v6.14h-6.12zM236.44 139.31h6.12v6.14h-6.12zM243.31 139.31h6.12v6.14h-6.12zM257.05 139.31h6.12v6.14h-6.12zM284.53 139.31h6.12v6.14h-6.12zM298.26 139.31h6.12v6.14h-6.12zM312.00 139.31h6.12v6.14h-6.12zM318.88 139.31h6.12v6.14h-6.12zM332.62 139.31h6.12v6.14h-6.12zM339.49 139.31h6.12v6.14h-6.12zM346.36 139.31h6.12v6.14h-6.12zM360.09 139.31h6.12v6.14h-6.12zM366.96 139.31h6.12v6.14h-6.12zM373.83 139.31h6.12v6.14h-6.12zM387.57 139.31h6.12v6.14h-6.12zM394.44 139.31h6.12v6.14h-6.12zM408.19 139.31h6.12v6.14h-6.12zM415.06 139.31h6.12v6.14h-6.12zM421.93 139.31h6.12v6.14h-6.12zM435.67 139.31h6.12v6.14h-6.12zM442.53 139.31h6.12v6.14h-6.12zM188.35 146.20h6.12v6.14h-6.12zM215.82 146.20h6.12v6.14h-6.12zM298.26 146.20h6.12v6.14h-6.12zM346.36 146.20h6.12v6.14h-6.12zM373.83 146.20h6.12v6.14h-6.12zM394.44 146.20h6.12v6.14h-6.12zM421.93 146.20h6.12v6.14h-6.12zM160.87 153.09h6.12v6.14h-6.12zM188.35 153.09h6.12v6.14h-6.12zM236.44 153.09h6.12v6.14h-6.12zM243.31 153.09h6.12v6.14h-6.12zM257.05 153.09h6.12v6.14h-6.12zM270.79 153.09h6.12v6.14h-6.12zM277.66 153.09h6.12v6.14h-6.12zM284.53 153.09h6.12v6.14h-6.12zM291.39 153.09h6.12v6.14h-6.12zM298.26 153.09h6.12v6.14h-6.12zM312.00 153.09h6.12v6.14h-6.12zM318.88 153.09h6.12v6.14h-6.12zM325.75 153.09h6.12v6.14h-6.12zM332.62 153.09h6.12v6.14h-6.12zM339.49 153.09h6.12v6.14h-6.12zM346.36 153.09h6.12v6.14h-6.12zM353.22 153.09h6.12v6.14h-6.12zM360.09 153.09h6.12v6.14h-6.12zM366.96 153.09h6.12v6.14h-6.12zM373.83 153.09h6.12v6.14h-6.12zM387.57 153.09h6.12v6.14h-6.12zM394.44 153.09h6.12v6.14h-6.12zM401.31 153.09h6.12v6.14h-6.12zM408.19 153.09h6.12v6.14h-6.12zM415.06 153.09h6.12v6.14h-6.12zM421.93 153.09h6.12v6.14h-6.12zM435.67 153.09h6.12v6.14h-6.12zM160.87 159.99h6.12v6.14h-6.12zM181.48 159.99h6.12v6.14h-6.12zM188.35 159.99h6.12v6.14h-6.12zM208.95 159.99h6.12v6.14h-6.12zM236.44 159.99h6.12v6.14h-6.12zM243.31 159.99h6.12v6.14h-6.12zM257.05 159.99h6.12v6.14h-6.12zM270.79 159.99h6.12v6.14h-6.12zM277.66 159.99h6.12v6.14h-6.12zM284.53 159.99h6.12v6.14h-6.12zM291.39 159.99h6.12v6.14h-6.12zM298.26 159.99h6.12v6.14h-6.12zM312.00 159.99h6.12v6.14h-6.12zM318.88 159.99h6.12v6.14h-6.12zM325.75 159.99h6.12v6.14h-6.12zM332.62 159.99h6.12v6.14h-6.12zM339.49 159.99h6.12v6.14h-6.12zM346.36 159.99h6.12v6.14h-6.12zM353.22 159.99h6.12v6.14h-6.12zM360.09 159.99h6.12v6.14h-6.12zM366.96 159.99h6.12v6.14h-6.12zM373.83 159.99h6.12v6.14h-6.12zM387.57 159.99h6.12v6.14h-6.12zM394.44 159.99h6.12v6.14h-6.12zM401.31 159.99h6.12v6.14h-6.12zM408.19 159.99h6.12v6.14h-6.12zM415.06 159.99h6.12v6.14h-6.12zM421.93 159.99h6.12v6.14h-6.12zM435.67 159.99h6.12v6.14h-6.12zM442.53 159.99h6.12v6.14h-6.12zM195.22 166.88h6.12v6.14h-6.12zM243.31 166.88h6.12v6.14h-6.12zM257.05 166.88h6.12v6.14h-6.12zM298.26 166.88h6.12v6.14h-6.12zM312.00 166.88h6.12v6.14h-6.12zM346.36 166.88h6.12v6.14h-6.12zM394.44 166.88h6.12v6.14h-6.12zM415.06 166.88h6.12v6.14h-6.12zM421.93 166.88h6.12v6.14h-6.12zM181.48 173.78h6.12v6.14h-6.12zM188.35 173.78h6.12v6.14h-6.12zM195.22 173.78h6.12v6.14h-6.12zM208.95 173.78h6.12v6.14h-6.12zM257.05 173.78h6.12v6.14h-6.12zM270.79 173.78h6.12v6.14h-6.12zM284.53 173.78h6.12v6.14h-6.12zM291.39 173.78h6.12v6.14h-6.12zM298.26 173.78h6.12v6.14h-6.12zM312.00 173.78h6.12v6.14h-6.12zM318.88 173.78h6.12v6.14h-6.12zM325.75 173.78h6.12v6.14h-6.12zM332.62 173.78h6.12v6.14h-6.12zM346.36 173.78h6.12v6.14h-6.12zM360.09 173.78h6.12v6.14h-6.12zM366.96 173.78h6.12v6.14h-6.12zM373.83 173.78h6.12v6.14h-6.12zM394.44 173.78h6.12v6.14h-6.12zM408.19 173.78h6.12v6.14h-6.12zM415.06 173.78h6.12v6.14h-6.12zM421.93 173.78h6.12v6.14h-6.12zM435.67 173.78h6.12v6.14h-6.12zM442.53 173.78h6.12v6.14h-6.12zM243.31 180.67h6.12v6.14h-6.12zM257.05 180.67h6.12v6.14h-6.12zM284.53 180.67h6.12v6.14h-6.12zM291.39 180.67h6.12v6.14h-6.12zM298.26 180.67h6.12v6.14h-6.12zM312.00 180.67h6.12v6.14h-6.12zM318.88 180.67h6.12v6.14h-6.12zM325.75 180.67h6.12v6.14h-6.12zM332.62 180.67h6.12v6.14h-6.12zM339.49 180.67h6.12v6.14h-6.12zM346.36 180.67h6.12v6.14h-6.12zM353.22 180.67h6.12v6.14h-6.12zM360.09 180.67h6.12v6.14h-6.12zM366.96 180.67h6.12v6.14h-6.12zM373.83 180.67h6.12v6.14h-6.12zM394.44 180.67h6.12v6.14h-6.12zM401.31 180.67h6.12v6.14h-6.12zM408.19 180.67h6.12v6.14h-6.12zM421.93 180.67h6.12v6.14h-6.12zM435.67 180.67h6.12v6.14h-6.12zM442.53 180.67h6.12v6.14h-6.12zM243.31 187.57h6.12v6.14h-6.12zM257.05 187.57h6.12v6.14h-6.12zM298.26 187.57h6.12v6.14h-6.12zM346.36 187.57h6.12v6.14h-6.12zM366.96 187.57h6.12v6.14h-6.12zM373.83 187.57h6.12v6.14h-6.12zM394.44 187.57h6.12v6.14h-6.12zM415.06 187.57h6.12v6.14h-6.12zM421.93 187.57h6.12v6.14h-6.12zM236.44 194.47h6.12v6.14h-6.12zM243.31 194.47h6.12v6.14h-6.12zM257.05 194.47h6.12v6.14h-6.12zM284.53 194.47h6.12v6.14h-6.12zM291.39 194.47h6.12v6.14h-6.12zM298.26 194.47h6.12v6.14h-6.12zM312.00 194.47h6.12v6.14h-6.12zM318.88 194.47h6.12v6.14h-6.12zM325.75 194.47h6.12v6.14h-6.12zM332.62 194.47h6.12v6.14h-6.12zM339.49 194.47h6.12v6.14h-6.12zM346.36 194.47h6.12v6.14h-6.12zM353.22 194.47h6.12v6.14h-6.12zM360.09 194.47h6.12v6.14h-6.12zM366.96 194.47h6.12v6.14h-6.12zM373.83 194.47h6.12v6.14h-6.12zM387.57 194.47h6.12v6.14h-6.12zM394.44 194.47h6.12v6.14h-6.12zM408.19 194.47h6.12v6.14h-6.12zM415.06 194.47h6.12v6.14h-6.12zM421.93 194.47h6.12v6.14h-6.12zM435.67 194.47h6.12v6.14h-6.12zM442.53 194.47h6.12v6.14h-6.12zM236.44 201.36h6.12v6.14h-6.12zM263.92 208.25h6.12v6.14h-6.12zM257.05 215.15h6.12v6.14h-6.12zM270.79 215.15h6.12v6.14h-6.12zM291.39 215.15h6.12v6.14h-6.12zM298.26 215.15h6.12v6.14h-6.12zM305.13 215.15h6.12v6.14h-6.12zM312.00 215.15h6.12v6.14h-6.12zM325.75 215.15h6.12v6.14h-6.12zM332.62 215.15h6.12v6.14h-6.12zM339.49 215.15h6.12v6.14h-6.12zM346.36 215.15h6.12v6.14h-6.12zM353.22 215.15h6.12v6.14h-6.12zM360.09 215.15h6.12v6.14h-6.12zM366.96 215.15h6.12v6.14h-6.12zM373.83 215.15h6.12v6.14h-6.12zM387.57 215.15h6.12v6.14h-6.12zM394.44 215.15h6.12v6.14h-6.12zM408.19 215.15h6.12v6.14h-6.12zM415.06 215.15h6.12v6.14h-6.12zM421.93 215.15h6.12v6.14h-6.12zM435.67 215.15h6.12v6.14h-6.12zM442.53 215.15h6.12v6.14h-6.12zM257.05 228.94h6.12v6.14h-6.12zM291.39 228.94h6.12v6.14h-6.12zM312.00 228.94h6.12v6.14h-6.12zM346.36 228.94h6.12v6.14h-6.12zM373.83 228.94h6.12v6.14h-6.12zM394.44 228.94h6.12v6.14h-6.12zM415.06 228.94h6.12v6.14h-6.12zM421.93 228.94h6.12v6.14h-6.12zM435.67 228.94h6.12v6.14h-6.12zM442.53 228.94h6.12v6.14h-6.12zM263.92 235.84h6.12v6.14h-6.12zM380.70 235.84h6.12v6.14h-6.12zM257.05 242.73h6.12v6.14h-6.12zM270.79 242.73h6.12v6.14h-6.12zM291.39 242.73h6.12v6.14h-6.12zM298.26 242.73h6.12v6.14h-6.12zM312.00 242.73h6.12v6.14h-6.12zM353.22 242.73h6.12v6.14h-6.12zM360.09 242.73h6.12v6.14h-6.12zM366.96 242.73h6.12v6.14h-6.12zM373.83 242.73h6.12v6.14h-6.12zM394.44 242.73h6.12v6.14h-6.12zM421.93 242.73h6.12v6.14h-6.12zM435.67 242.73h6.12v6.14h-6.12zM442.53 242.73h6.12v6.14h-6.12zM291.39 249.62h6.12v6.14h-6.12zM298.26 249.62h6.12v6.14h-6.12zM312.00 249.62h6.12v6.14h-6.12zM318.88 249.62h6.12v6.14h-6.12zM332.62 249.62h6.12v6.14h-6.12zM346.36 249.62h6.12v6.14h-6.12zM353.22 249.62h6.12v6.14h-6.12zM360.09 249.62h6.12v6.14h-6.12zM366.96 249.62h6.12v6.14h-6.12zM373.83 249.62h6.12v6.14h-6.12zM394.44 249.62h6.12v6.14h-6.12zM401.31 249.62h6.12v6.14h-6.12zM408.19 249.62h6.12v6.14h-6.12zM415.06 249.62h6.12v6.14h-6.12zM421.93 249.62h6.12v6.14h-6.12zM435.67 249.62h6.12v6.14h-6.12zM442.53 249.62h6.12v6.14h-6.12zM263.92 256.52h6.12v6.14h-6.12zM428.80 256.52h6.12v6.14h-6.12zM270.79 263.41h6.12v6.14h-6.12zM284.53 263.41h6.12v6.14h-6.12zM291.39 263.41h6.12v6.14h-6.12zM298.26 263.41h6.12v6.14h-6.12zM312.00 263.41h6.12v6.14h-6.12zM318.88 263.41h6.12v6.14h-6.12zM325.75 263.41h6.12v6.14h-6.12zM332.62 263.41h6.12v6.14h-6.12zM339.49 263.41h6.12v6.14h-6.12zM346.36 263.41h6.12v6.14h-6.12zM353.22 263.41h6.12v6.14h-6.12zM360.09 263.41h6.12v6.14h-6.12zM366.96 263.41h6.12v6.14h-6.12zM373.83 263.41h6.12v6.14h-6.12zM394.44 263.41h6.12v6.14h-6.12zM401.31 263.41h6.12v6.14h-6.12zM408.19 263.41h6.12v6.14h-6.12zM421.93 263.41h6.12v6.14h-6.12zM435.67 263.41h6.12v6.14h-6.12zM394.44 270.31h6.12v6.14h-6.12zM415.06 270.31h6.12v6.14h-6.12zM421.93 270.31h6.12v6.14h-6.12zM291.39 277.20h6.12v6.14h-6.12zM312.00 277.20h6.12v6.14h-6.12zM325.75 277.20h6.12v6.14h-6.12zM332.62 277.20h6.12v6.14h-6.12zM339.49 277.20h6.12v6.14h-6.12zM346.36 277.20h6.12v6.14h-6.12zM373.83 277.20h6.12v6.14h-6.12zM387.57 277.20h6.12v6.14h-6.12zM394.44 277.20h6.12v6.14h-6.12zM408.19 277.20h6.12v6.14h-6.12zM415.06 277.20h6.12v6.14h-6.12zM421.93 277.20h6.12v6.14h-6.12zM435.67 277.20h6.12v6.14h-6.12zM442.53 277.20h6.12v6.14h-6.12zM291.39 284.10h6.12v6.14h-6.12zM298.26 284.10h6.12v6.14h-6.12zM312.00 284.10h6.12v6.14h-6.12zM325.75 284.10h6.12v6.14h-6.12zM339.49 284.10h6.12v6.14h-6.12zM346.36 284.10h6.12v6.14h-6.12zM360.09 284.10h6.12v6.14h-6.12zM366.96 284.10h6.12v6.14h-6.12zM373.83 284.10h6.12v6.14h-6.12zM387.57 284.10h6.12v6.14h-6.12zM394.44 284.10h6.12v6.14h-6.12zM408.19 284.10h6.12v6.14h-6.12zM421.93 284.10h6.12v6.14h-6.12zM428.80 284.10h6.12v6.14h-6.12zM442.53 284.10h6.12v6.14h-6.12zM312.00 290.99h6.12v6.14h-6.12zM318.88 290.99h6.12v6.14h-6.12zM325.75 290.99h6.12v6.14h-6.12zM339.49 290.99h6.12v6.14h-6.12zM346.36 290.99h6.12v6.14h-6.12zM366.96 290.99h6.12v6.14h-6.12zM373.83 290.99h6.12v6.14h-6.12zM394.44 290.99h6.12v6.14h-6.12zM415.06 290.99h6.12v6.14h-6.12zM421.93 290.99h6.12v6.14h-6.12zM435.67 290.99h6.12v6.14h-6.12zM305.13 297.89h6.12v6.14h-6.12zM312.00 297.89h6.12v6.14h-6.12zM318.88 297.89h6.12v6.14h-6.12zM325.75 297.89h6.12v6.14h-6.12zM339.49 297.89h6.12v6.14h-6.12zM346.36 297.89h6.12v6.14h-6.12zM353.22 297.89h6.12v6.14h-6.12zM360.09 297.89h6.12v6.14h-6.12zM366.96 297.89h6.12v6.14h-6.12zM373.83 297.89h6.12v6.14h-6.12zM387.57 297.89h6.12v6.14h-6.12zM394.44 297.89h6.12v6.14h-6.12zM401.31 297.89h6.12v6.14h-6.12zM408.19 297.89h6.12v6.14h-6.12zM415.06 297.89h6.12v6.14h-6.12zM421.93 297.89h6.12v6.14h-6.12zM435.67 297.89h6.12v6.14h-6.12zM442.53 297.89h6.12v6.14h-6.12zM305.13 304.78h6.12v6.14h-6.12zM312.00 304.78h6.12v6.14h-6.12zM318.88 304.78h6.12v6.14h-6.12zM325.75 304.78h6.12v6.14h-6.12zM332.62 304.78h6.12v6.14h-6.12zM339.49 304.78h6.12v6.14h-6.12zM346.36 304.78h6.12v6.14h-6.12zM353.22 304.78h6.12v6.14h-6.12zM360.09 304.78h6.12v6.14h-6.12zM366.96 304.78h6.12v6.14h-6.12zM373.83 304.78h6.12v6.14h-6.12zM387.57 304.78h6.12v6.14h-6.12zM394.44 304.78h6.12v6.14h-6.12zM401.31 304.78h6.12v6.14h-6.12zM408.19 304.78h6.12v6.14h-6.12zM415.06 304.78h6.12v6.14h-6.12zM421.93 304.78h6.12v6.14h-6.12zM435.67 304.78h6.12v6.14h-6.12zM442.53 304.78h6.12v6.14h-6.12zM332.62 311.68h6.12v6.14h-6.12zM339.49 311.68h6.12v6.14h-6.12zM346.36 311.68h6.12v6.14h-6.12zM373.83 311.68h6.12v6.14h-6.12zM394.44 311.68h6.12v6.14h-6.12zM415.06 311.68h6.12v6.14h-6.12zM421.93 311.68h6.12v6.14h-6.12zM325.75 318.57h6.12v6.14h-6.12zM332.62 318.57h6.12v6.14h-6.12zM339.49 318.57h6.12v6.14h-6.12zM346.36 318.57h6.12v6.14h-6.12zM353.22 318.57h6.12v6.14h-6.12zM360.09 318.57h6.12v6.14h-6.12zM366.96 318.57h6.12v6.14h-6.12zM373.83 318.57h6.12v6.14h-6.12zM394.44 318.57h6.12v6.14h-6.12zM408.19 318.57h6.12v6.14h-6.12zM415.06 318.57h6.12v6.14h-6.12zM421.93 318.57h6.12v6.14h-6.12zM435.67 318.57h6.12v6.14h-6.12zM442.53 318.57h6.12v6.14h-6.12zM339.49 325.47h6.12v6.14h-6.12zM360.09 325.47h6.12v6.14h-6.12zM366.96 325.47h6.12v6.14h-6.12zM373.83 325.47h6.12v6.14h-6.12zM394.44 325.47h6.12v6.14h-6.12zM415.06 325.47h6.12v6.14h-6.12zM421.93 325.47h6.12v6.14h-6.12zM435.67 325.47h6.12v6.14h-6.12zM339.49 332.36h6.12v6.14h-6.12zM346.36 332.36h6.12v6.14h-6.12zM353.22 332.36h6.12v6.14h-6.12zM360.09 332.36h6.12v6.14h-6.12zM373.83 332.36h6.12v6.14h-6.12zM394.44 332.36h6.12v6.14h-6.12zM408.19 332.36h6.12v6.14h-6.12zM415.06 332.36h6.12v6.14h-6.12zM421.93 332.36h6.12v6.14h-6.12zM435.67 332.36h6.12v6.14h-6.12zM442.53 332.36h6.12v6.14h-6.12zM339.49 339.26h6.12v6.14h-6.12zM346.36 339.26h6.12v6.14h-6.12zM353.22 339.26h6.12v6.14h-6.12zM360.09 339.26h6.12v6.14h-6.12zM366.96 339.26h6.12v6.14h-6.12zM373.83 339.26h6.12v6.14h-6.12zM387.57 339.26h6.12v6.14h-6.12zM394.44 339.26h6.12v6.14h-6.12zM408.19 339.26h6.12v6.14h-6.12zM415.06 339.26h6.12v6.14h-6.12zM421.93 339.26h6.12v6.14h-6.12zM435.67 339.26h6.12v6.14h-6.12zM442.53 339.26h6.12v6.14h-6.12zM353.22 346.15h6.12v6.14h-6.12zM360.09 346.15h6.12v6.14h-6.12zM366.96 346.15h6.12v6.14h-6.12zM373.83 346.15h6.12v6.14h-6.12zM394.44 346.15h6.12v6.14h-6.12zM408.19 346.15h6.12v6.14h-6.12zM415.06 346.15h6.12v6.14h-6.12zM421.93 346.15h6.12v6.14h-6.12zM435.67 346.15h6.12v6.14h-6.12zM442.53 346.15h6.12v6.14h-6.12zM353.22 353.05h6.12v6.14h-6.12zM360.09 353.05h6.12v6.14h-6.12zM366.96 353.05h6.12v6.14h-6.12zM373.83 353.05h6.12v6.14h-6.12zM380.70 353.05h6.12v6.14h-6.12zM394.44 353.05h6.12v6.14h-6.12zM401.31 353.05h6.12v6.14h-6.12zM408.19 353.05h6.12v6.14h-6.12zM415.06 353.05h6.12v6.14h-6.12zM421.93 353.05h6.12v6.14h-6.12zM435.67 353.05h6.12v6.14h-6.12zM442.53 353.05h6.12v6.14h-6.12zM373.83 359.94h6.12v6.14h-6.12zM394.44 359.94h6.12v6.14h-6.12zM401.31 359.94h6.12v6.14h-6.12zM408.19 359.94h6.12v6.14h-6.12zM415.06 359.94h6.12v6.14h-6.12zM421.93 359.94h6.12v6.14h-6.12zM435.67 359.94h6.12v6.14h-6.12zM442.53 359.94h6.12v6.14h-6.12zM373.83 366.84h6.12v6.14h-6.12zM394.44 366.84h6.12v6.14h-6.12zM408.19 366.84h6.12v6.14h-6.12zM415.06 366.84h6.12v6.14h-6.12zM394.44 373.73h6.12v6.14h-6.12zM401.31 373.73h6.12v6.14h-6.12zM408.19 373.73h6.12v6.14h-6.12zM415.06 373.73h6.12v6.14h-6.12zM394.44 380.63h6.12v6.14h-6.12zM401.31 380.63h6.12v6.14h-6.12zM408.19 380.63h6.12v6.14h-6.12zM415.06 380.63h6.12v6.14h-6.12zM421.93 380.63h6.12v6.14h-6.12zM435.67 380.63h6.12v6.14h-6.12zM442.53 380.63h6.12v6.14h-6.12zM428.80 387.52h6.12v6.14h-6.12zM408.19 394.42h6.12v6.14h-6.12zM421.93 394.42h6.12v6.14h-6.12zM408.19 401.31h6.12v6.14h-6.12zM415.06 401.31h6.12v6.14h-6.12zM421.93 401.31h6.12v6.14h-6.12zM435.67 401.31h6.12v6.14h-6.12zM442.53 401.31h6.12v6.14h-6.12zM435.67 415.10h6.12v6.14h-6.12zM442.53 415.10h6.12v6.14h-6.12zM435.67 422.00h6.12v6.14h-6.12zM442.53 422.00h6.12v6.14h-6.12z"/><path fill="#e48a8a" d="M85.30 42.77h6.12v6.14h-6.12zM92.17 49.67h6.12v6.14h-6.12zM339.49 49.67h6.12v6.14h-6.12zM346.36 56.56h6.12v6.14h-6.12zM353.22 56.56h6.12v6.14h-6.12zM167.74 63.46h6.12v6.14h-6.12zM85.30 84.14h6.12v6.14h-6.12zM428.80 84.14h6.12v6.14h-6.12zM353.22 91.04h6.12v6.14h-6.12zM360.09 91.04h6.12v6.14h-6.12zM222.69 97.94h6.12v6.14h-6.12zM140.25 111.72h6.12v6.14h-6.12zM305.13 111.72h6.12v6.14h-6.12zM119.65 118.62h6.12v6.14h-6.12zM353.22 118.62h6.12v6.14h-6.12zM435.67 118.62h6.12v6.14h-6.12zM442.53 118.62h6.12v6.14h-6.12zM318.88 125.51h6.12v6.14h-6.12zM353.22 125.51h6.12v6.14h-6.12zM257.05 146.20h6.12v6.14h-6.12zM291.39 146.20h6.12v6.14h-6.12zM408.19 146.20h6.12v6.14h-6.12zM415.06 146.20h6.12v6.14h-6.12zM380.70 159.99h6.12v6.14h-6.12zM442.53 166.88h6.12v6.14h-6.12zM387.57 173.78h6.12v6.14h-6.12zM188.35 180.67h6.12v6.14h-6.12zM208.95 180.67h6.12v6.14h-6.12zM236.44 180.67h6.12v6.14h-6.12zM387.57 180.67h6.12v6.14h-6.12zM312.00 187.57h6.12v6.14h-6.12zM208.95 194.47h6.12v6.14h-6.12zM380.70 215.15h6.12v6.14h-6.12zM263.92 222.04h6.12v6.14h-6.12zM380.70 222.04h6.12v6.14h-6.12zM298.26 228.94h6.12v6.14h-6.12zM408.19 228.94h6.12v6.14h-6.12zM243.31 235.84h6.12v6.14h-6.12zM339.49 235.84h6.12v6.14h-6.12zM415.06 235.84h6.12v6.14h-6.12zM305.13 249.62h6.12v6.14h-6.12zM325.75 249.62h6.12v6.14h-6.12zM339.49 249.62h6.12v6.14h-6.12zM257.05 256.52h6.12v6.14h-6.12zM270.79 256.52h6.12v6.14h-6.12zM353.22 256.52h6.12v6.14h-6.12zM360.09 256.52h6.12v6.14h-6.12zM387.57 263.41h6.12v6.14h-6.12zM415.06 284.10h6.12v6.14h-6.12zM435.67 284.10h6.12v6.14h-6.12zM291.39 290.99h6.12v6.14h-6.12zM298.26 290.99h6.12v6.14h-6.12zM408.19 290.99h6.12v6.14h-6.12zM332.62 297.89h6.12v6.14h-6.12zM387.57 318.57h6.12v6.14h-6.12zM401.31 318.57h6.12v6.14h-6.12zM387.57 346.15h6.12v6.14h-6.12zM394.44 394.42h6.12v6.14h-6.12zM415.06 394.42h6.12v6.14h-6.12zM442.53 442.68h6.12v6.14h-6.12z"/><path fill="#dcdcf0" d="M140.25 42.77h6.12v6.14h-6.12zM181.48 42.77h6.12v6.14h-6.12zM229.56 42.77h6.12v6.14h-6.12zM263.92 42.77h6.12v6.14h-6.12zM305.13 42.77h6.12v6.14h-6.12zM380.70 42.77h6.12v6.14h-6.12zM387.57 42.77h6.12v6.14h-6.12zM85.30 49.67h6.12v6.14h-6.12zM147.12 49.67h6.12v6.14h-6.12zM174.61 49.67h6.12v6.14h-6.12zM188.35 49.67h6.12v6.14h-6.12zM270.79 49.67h6.12v6.14h-6.12zM277.66 49.67h6.12v6.14h-6.12zM298.26 49.67h6.12v6.14h-6.12zM366.96 49.67h6.12v6.14h-6.12zM442.53 49.67h6.12v6.14h-6.12zM133.38 56.56h6.12v6.14h-6.12zM140.25 56.56h6.12v6.14h-6.12zM174.61 56.56h6.12v6.14h-6.12zM270.79 56.56h6.12v6.14h-6.12zM291.39 56.56h6.12v6.14h-6.12zM332.62 56.56h6.12v6.14h-6.12zM428.80 56.56h6.12v6.14h-6.12zM119.65 63.46h6.12v6.14h-6.12zM133.38 63.46h6.12v6.14h-6.12zM140.25 63.46h6.12v6.14h-6.12zM215.82 63.46h6.12v6.14h-6.12zM229.56 63.46h6.12v6.14h-6.12zM250.18 63.46h6.12v6.14h-6.12zM291.39 63.46h6.12v6.14h-6.12zM298.26 63.46h6.12v6.14h-6.12zM360.09 63.46h6.12v6.14h-6.12zM366.96 63.46h6.12v6.14h-6.12zM373.83 63.46h6.12v6.14h-6.12zM415.06 63.46h6.12v6.14h-6.12zM421.93 63.46h6.12v6.14h-6.12zM428.80 63.46h6.12v6.14h-6.12zM85.30 70.35h6.12v6.14h-6.12zM133.38 70.35h6.12v6.14h-6.12zM154.00 70.35h6.12v6.14h-6.12zM160.87 70.35h6.12v6.14h-6.12zM222.69 70.35h6.12v6.14h-6.12zM263.92 70.35h6.12v6.14h-6.12zM270.79 70.35h6.12v6.14h-6.12zM112.78 77.25h6.12v6.14h-6.12zM126.52 77.25h6.12v6.14h-6.12zM140.25 77.25h6.12v6.14h-6.12zM160.87 77.25h6.12v6.14h-6.12zM215.82 77.25h6.12v6.14h-6.12zM263.92 77.25h6.12v6.14h-6.12zM270.79 77.25h6.12v6.14h-6.12zM305.13 77.25h6.12v6.14h-6.12zM318.88 77.25h6.12v6.14h-6.12zM195.22 91.04h6.12v6.14h-6.12zM174.61 118.62h6.12v6.14h-6.12zM188.35 118.62h6.12v6.14h-6.12zM236.44 118.62h6.12v6.14h-6.12zM284.53 118.62h6.12v6.14h-6.12zM305.13 118.62h6.12v6.14h-6.12zM387.57 118.62h6.12v6.14h-6.12zM401.31 118.62h6.12v6.14h-6.12zM195.22 125.51h6.12v6.14h-6.12zM229.56 132.41h6.12v6.14h-6.12zM263.92 132.41h6.12v6.14h-6.12zM277.66 132.41h6.12v6.14h-6.12zM305.13 132.41h6.12v6.14h-6.12zM380.70 166.88h6.12v6.14h-6.12zM270.79 201.36h6.12v6.14h-6.12zM277.66 201.36h6.12v6.14h-6.12zM305.13 201.36h6.12v6.14h-6.12zM318.88 201.36h6.12v6.14h-6.12zM353.22 201.36h6.12v6.14h-6.12zM380.70 201.36h6.12v6.14h-6.12zM387.57 201.36h6.12v6.14h-6.12zM442.53 201.36h6.12v6.14h-6.12zM284.53 208.25h6.12v6.14h-6.12zM305.13 208.25h6.12v6.14h-6.12zM318.88 208.25h6.12v6.14h-6.12zM353.22 208.25h6.12v6.14h-6.12zM360.09 208.25h6.12v6.14h-6.12zM387.57 208.25h6.12v6.14h-6.12zM277.66 222.04h6.12v6.14h-6.12zM305.13 222.04h6.12v6.14h-6.12zM305.13 235.84h6.12v6.14h-6.12zM305.13 256.52h6.12v6.14h-6.12zM401.31 256.52h6.12v6.14h-6.12zM428.80 270.31h6.12v6.14h-6.12zM380.70 277.20h6.12v6.14h-6.12zM428.80 277.20h6.12v6.14h-6.12zM380.70 284.10h6.12v6.14h-6.12zM380.70 290.99h6.12v6.14h-6.12zM428.80 311.68h6.12v6.14h-6.12zM428.80 325.47h6.12v6.14h-6.12zM428.80 401.31h6.12v6.14h-6.12z"/><path fill="#fae8e8" d="M160.87 42.77h6.12v6.14h-6.12zM215.82 42.77h6.12v6.14h-6.12zM222.69 42.77h6.12v6.14h-6.12zM57.82 49.67h6.12v6.14h-6.12zM105.91 49.67h6.12v6.14h-6.12zM126.52 49.67h6.12v6.14h-6.12zM154.00 49.67h6.12v6.14h-6.12zM181.48 49.67h6.12v6.14h-6.12zM215.82 49.67h6.12v6.14h-6.12zM243.31 49.67h6.12v6.14h-6.12zM291.39 49.67h6.12v6.14h-6.12zM346.36 49.67h6.12v6.14h-6.12zM380.70 49.67h6.12v6.14h-6.12zM394.44 49.67h6.12v6.14h-6.12zM401.31 49.67h6.12v6.14h-6.12zM415.06 49.67h6.12v6.14h-6.12zM421.93 49.67h6.12v6.14h-6.12zM435.67 49.67h6.12v6.14h-6.12zM57.82 56.56h6.12v6.14h-6.12zM105.91 56.56h6.12v6.14h-6.12zM126.52 56.56h6.12v6.14h-6.12zM147.12 56.56h6.12v6.14h-6.12zM222.69 56.56h6.12v6.14h-6.12zM243.31 56.56h6.12v6.14h-6.12zM318.88 56.56h6.12v6.14h-6.12zM394.44 56.56h6.12v6.14h-6.12zM421.93 56.56h6.12v6.14h-6.12zM435.67 56.56h6.12v6.14h-6.12zM71.56 63.46h6.12v6.14h-6.12zM92.17 63.46h6.12v6.14h-6.12zM160.87 63.46h6.12v6.14h-6.12zM174.61 63.46h6.12v6.14h-6.12zM181.48 63.46h6.12v6.14h-6.12zM195.22 63.46h6.12v6.14h-6.12zM208.95 63.46h6.12v6.14h-6.12zM236.44 63.46h6.12v6.14h-6.12zM257.05 63.46h6.12v6.14h-6.12zM277.66 63.46h6.12v6.14h-6.12zM305.13 63.46h6.12v6.14h-6.12zM312.00 63.46h6.12v6.14h-6.12zM401.31 63.46h6.12v6.14h-6.12zM105.91 70.35h6.12v6.14h-6.12zM188.35 70.35h6.12v6.14h-6.12zM298.26 70.35h6.12v6.14h-6.12zM353.22 70.35h6.12v6.14h-6.12zM408.19 70.35h6.12v6.14h-6.12zM250.18 77.25h6.12v6.14h-6.12zM277.66 77.25h6.12v6.14h-6.12zM401.31 77.25h6.12v6.14h-6.12zM112.78 84.14h6.12v6.14h-6.12zM215.82 91.04h6.12v6.14h-6.12zM112.78 97.94h6.12v6.14h-6.12zM112.78 104.83h6.12v6.14h-6.12zM195.22 104.83h6.12v6.14h-6.12zM112.78 111.72h6.12v6.14h-6.12zM133.38 118.62h6.12v6.14h-6.12zM140.25 118.62h6.12v6.14h-6.12zM147.12 118.62h6.12v6.14h-6.12zM154.00 118.62h6.12v6.14h-6.12zM160.87 118.62h6.12v6.14h-6.12zM202.08 118.62h6.12v6.14h-6.12zM208.95 118.62h6.12v6.14h-6.12zM229.56 118.62h6.12v6.14h-6.12zM257.05 118.62h6.12v6.14h-6.12zM360.09 118.62h6.12v6.14h-6.12zM366.96 118.62h6.12v6.14h-6.12zM380.70 118.62h6.12v6.14h-6.12zM202.08 125.51h6.12v6.14h-6.12zM147.12 132.41h6.12v6.14h-6.12zM160.87 132.41h6.12v6.14h-6.12zM174.61 132.41h6.12v6.14h-6.12zM181.48 132.41h6.12v6.14h-6.12zM222.69 132.41h6.12v6.14h-6.12zM236.44 132.41h6.12v6.14h-6.12zM312.00 132.41h6.12v6.14h-6.12zM325.75 132.41h6.12v6.14h-6.12zM360.09 132.41h6.12v6.14h-6.12zM380.70 132.41h6.12v6.14h-6.12zM387.57 132.41h6.12v6.14h-6.12zM401.31 132.41h6.12v6.14h-6.12zM202.08 139.31h6.12v6.14h-6.12zM229.56 146.20h6.12v6.14h-6.12zM263.92 146.20h6.12v6.14h-6.12zM277.66 146.20h6.12v6.14h-6.12zM202.08 153.09h6.12v6.14h-6.12zM202.08 166.88h6.12v6.14h-6.12zM428.80 166.88h6.12v6.14h-6.12zM202.08 173.78h6.12v6.14h-6.12zM229.56 173.78h6.12v6.14h-6.12zM195.22 180.67h6.12v6.14h-6.12zM250.18 180.67h6.12v6.14h-6.12zM195.22 187.57h6.12v6.14h-6.12zM380.70 187.57h6.12v6.14h-6.12zM428.80 187.57h6.12v6.14h-6.12zM195.22 194.47h6.12v6.14h-6.12zM215.82 201.36h6.12v6.14h-6.12zM257.05 201.36h6.12v6.14h-6.12zM263.92 201.36h6.12v6.14h-6.12zM291.39 201.36h6.12v6.14h-6.12zM401.31 201.36h6.12v6.14h-6.12zM408.19 201.36h6.12v6.14h-6.12zM435.67 201.36h6.12v6.14h-6.12zM222.69 208.25h6.12v6.14h-6.12zM236.44 208.25h6.12v6.14h-6.12zM401.31 208.25h6.12v6.14h-6.12zM236.44 222.04h6.12v6.14h-6.12zM284.53 222.04h6.12v6.14h-6.12zM318.88 222.04h6.12v6.14h-6.12zM339.49 222.04h6.12v6.14h-6.12zM360.09 222.04h6.12v6.14h-6.12zM401.31 222.04h6.12v6.14h-6.12zM408.19 222.04h6.12v6.14h-6.12zM229.56 228.94h6.12v6.14h-6.12zM263.92 228.94h6.12v6.14h-6.12zM380.70 228.94h6.12v6.14h-6.12zM318.88 235.84h6.12v6.14h-6.12zM325.75 235.84h6.12v6.14h-6.12zM401.31 235.84h6.12v6.14h-6.12zM380.70 242.73h6.12v6.14h-6.12zM284.53 256.52h6.12v6.14h-6.12zM318.88 256.52h6.12v6.14h-6.12zM366.96 256.52h6.12v6.14h-6.12zM380.70 256.52h6.12v6.14h-6.12zM387.57 256.52h6.12v6.14h-6.12zM428.80 290.99h6.12v6.14h-6.12zM380.70 311.68h6.12v6.14h-6.12zM428.80 318.57h6.12v6.14h-6.12zM428.80 332.36h6.12v6.14h-6.12zM380.70 366.84h6.12v6.14h-6.12zM428.80 366.84h6.12v6.14h-6.12zM428.80 373.73h6.12v6.14h-6.12zM401.31 387.52h6.12v6.14h-6.12zM435.67 387.52h6.12v6.14h-6.12zM428.80 394.42h6.12v6.14h-6.12zM428.80 408.21h6.12v6.14h-6.12zM428.80 415.10h6.12v6.14h-6.12zM435.67 435.79h6.12v6.14h-6.12z"/><path fill="#bcbce0" d="M428.80 42.77h6.12v6.14h-6.12zM250.18 49.67h6.12v6.14h-6.12zM428.80 49.67h6.12v6.14h-6.12zM195.22 56.56h6.12v6.14h-6.12zM126.52 63.46h6.12v6.14h-6.12zM263.92 63.46h6.12v6.14h-6.12zM270.79 63.46h6.12v6.14h-6.12zM284.53 63.46h6.12v6.14h-6.12zM325.75 63.46h6.12v6.14h-6.12zM353.22 63.46h6.12v6.14h-6.12zM380.70 63.46h6.12v6.14h-6.12zM126.52 70.35h6.12v6.14h-6.12zM195.22 70.35h6.12v6.14h-6.12zM277.66 70.35h6.12v6.14h-6.12zM312.00 70.35h6.12v6.14h-6.12zM380.70 70.35h6.12v6.14h-6.12zM387.57 70.35h6.12v6.14h-6.12zM250.18 201.36h6.12v6.14h-6.12zM428.80 201.36h6.12v6.14h-6.12zM428.80 208.25h6.12v6.14h-6.12zM428.80 222.04h6.12v6.14h-6.12zM428.80 235.84h6.12v6.14h-6.12z"/><path fill="#d23c3f" d="M50.95 49.67h6.12v6.14h-6.12zM105.91 97.94h6.12v6.14h-6.12zM105.91 104.83h6.12v6.14h-6.12zM408.19 111.72h6.12v6.14h-6.12zM188.35 187.57h6.12v6.14h-6.12zM222.69 222.04h6.12v6.14h-6.12zM243.31 242.73h6.12v6.14h-6.12zM415.06 263.41h6.12v6.14h-6.12zM312.00 311.68h6.12v6.14h-6.12zM360.09 359.94h6.12v6.14h-6.12zM421.93 422.00h6.12v6.14h-6.12z"/><path fill="#db6161" d="M229.56 49.67h6.12v6.14h-6.12zM236.44 49.67h6.12v6.14h-6.12zM325.75 84.14h6.12v6.14h-6.12zM339.49 84.14h6.12v6.14h-6.12zM435.67 91.04h6.12v6.14h-6.12zM99.03 97.94h6.12v6.14h-6.12zM119.65 97.94h6.12v6.14h-6.12zM339.49 97.94h6.12v6.14h-6.12zM119.65 104.83h6.12v6.14h-6.12zM236.44 104.83h6.12v6.14h-6.12zM360.09 104.83h6.12v6.14h-6.12zM119.65 111.72h6.12v6.14h-6.12zM222.69 111.72h6.12v6.14h-6.12zM353.22 111.72h6.12v6.14h-6.12zM366.96 111.72h6.12v6.14h-6.12zM291.39 139.31h6.12v6.14h-6.12zM325.75 139.31h6.12v6.14h-6.12zM353.22 139.31h6.12v6.14h-6.12zM154.00 153.09h6.12v6.14h-6.12zM208.95 153.09h6.12v6.14h-6.12zM442.53 153.09h6.12v6.14h-6.12zM222.69 159.99h6.12v6.14h-6.12zM243.31 173.78h6.12v6.14h-6.12zM339.49 173.78h6.12v6.14h-6.12zM415.06 180.67h6.12v6.14h-6.12zM208.95 208.25h6.12v6.14h-6.12zM346.36 242.73h6.12v6.14h-6.12zM415.06 242.73h6.12v6.14h-6.12zM442.53 263.41h6.12v6.14h-6.12zM298.26 297.89h6.12v6.14h-6.12zM346.36 346.15h6.12v6.14h-6.12zM387.57 353.05h6.12v6.14h-6.12zM421.93 366.84h6.12v6.14h-6.12zM435.67 366.84h6.12v6.14h-6.12zM442.53 366.84h6.12v6.14h-6.12zM373.83 373.73h6.12v6.14h-6.12zM421.93 373.73h6.12v6.14h-6.12zM435.67 373.73h6.12v6.14h-6.12zM442.53 373.73h6.12v6.14h-6.12zM415.06 408.21h6.12v6.14h-6.12zM421.93 408.21h6.12v6.14h-6.12zM415.06 415.10h6.12v6.14h-6.12zM421.93 415.10h6.12v6.14h-6.12zM435.67 428.89h6.12v6.14h-6.12zM442.53 428.89h6.12v6.14h-6.12z"/><path fill="#ebafaf" d="M236.44 56.56h6.12v6.14h-6.12zM373.83 56.56h6.12v6.14h-6.12zM202.08 63.46h6.12v6.14h-6.12zM188.35 77.25h6.12v6.14h-6.12zM373.83 77.25h6.12v6.14h-6.12zM394.44 77.25h6.12v6.14h-6.12zM112.78 91.04h6.12v6.14h-6.12zM270.79 91.04h6.12v6.14h-6.12zM277.66 91.04h6.12v6.14h-6.12zM126.52 111.72h6.12v6.14h-6.12zM202.08 111.72h6.12v6.14h-6.12zM160.87 125.51h6.12v6.14h-6.12zM270.79 125.51h6.12v6.14h-6.12zM133.38 132.41h6.12v6.14h-6.12zM140.25 132.41h6.12v6.14h-6.12zM181.48 139.31h6.12v6.14h-6.12zM147.12 146.20h6.12v6.14h-6.12zM154.00 146.20h6.12v6.14h-6.12zM380.70 146.20h6.12v6.14h-6.12zM263.92 153.09h6.12v6.14h-6.12zM380.70 153.09h6.12v6.14h-6.12zM215.82 159.99h6.12v6.14h-6.12zM263.92 159.99h6.12v6.14h-6.12zM174.61 173.78h6.12v6.14h-6.12zM222.69 173.78h6.12v6.14h-6.12zM236.44 173.78h6.12v6.14h-6.12zM181.48 180.67h6.12v6.14h-6.12zM202.08 180.67h6.12v6.14h-6.12zM222.69 180.67h6.12v6.14h-6.12zM277.66 180.67h6.12v6.14h-6.12zM202.08 187.57h6.12v6.14h-6.12zM208.95 187.57h6.12v6.14h-6.12zM401.31 187.57h6.12v6.14h-6.12zM202.08 194.47h6.12v6.14h-6.12zM202.08 201.36h6.12v6.14h-6.12zM236.44 228.94h6.12v6.14h-6.12zM243.31 228.94h6.12v6.14h-6.12zM339.49 228.94h6.12v6.14h-6.12zM236.44 235.84h6.12v6.14h-6.12zM421.93 235.84h6.12v6.14h-6.12zM415.06 256.52h6.12v6.14h-6.12zM325.75 311.68h6.12v6.14h-6.12zM353.22 311.68h6.12v6.14h-6.12zM366.96 311.68h6.12v6.14h-6.12zM325.75 325.47h6.12v6.14h-6.12zM332.62 325.47h6.12v6.14h-6.12zM332.62 332.36h6.12v6.14h-6.12zM366.96 332.36h6.12v6.14h-6.12zM366.96 359.94h6.12v6.14h-6.12zM366.96 366.84h6.12v6.14h-6.12zM408.19 408.21h6.12v6.14h-6.12z"/><path fill="#8c8cc8" d="M112.78 63.46h6.12v6.14h-6.12z"/><path fill="#ffffff" d="M428.80 146.20h6.12v6.14h-6.12zM380.70 270.31h6.12v6.14h-6.12z"/><path fill="#c6232a" d="M339.49 242.73h6.12v6.14h-6.12z"/></svg>
<div class="a rl" style="left:-42.58px;top:43.11px">SPEN</div>
<div class="a rl" style="left:-36.46px;top:50.01px">KMT2D</div>
<div class="a rl" style="left:-32.54px;top:56.90px">TNFAIP3</div>
<div class="a rl" style="left:-23.59px;top:63.80px">NOTCH2</div>
<div class="a rl" style="left:-18.39px;top:70.69px">KLF2</div>
<div class="a rl" style="left:-11.14px;top:77.59px">CCND3</div>
<div class="a rl" style="left:-5.07px;top:84.48px">ASXL1</div>
<div class="a rl" style="left:1.34px;top:91.38px">XPO1</div>
<div class="a rl" style="left:9.14px;top:98.27px">ID3</div>
<div class="a rl" style="left:16.87px;top:105.17px">BCL7A</div>
<div class="a rl" style="left:24.21px;top:112.06px">B2M</div>
<div class="a rl" style="left:31.13px;top:118.96px">NOTCH1</div>
<div class="a rl" style="left:37.98px;top:125.85px">DTX1</div>
<div class="a rl" style="left:44.35px;top:132.75px">CREBBP</div>
<div class="a rl" style="left:50.97px;top:139.64px">ATRX</div>
<div class="a rl" style="left:57.37px;top:146.54px">TET2</div>
<div class="a rl" style="left:65.45px;top:153.43px">FBXO11</div>
<div class="a rl" style="left:71.58px;top:160.33px">PAX5</div>
<div class="a rl" style="left:79.47px;top:167.22px">NFKBIE</div>
<div class="a rl" style="left:84.32px;top:174.12px">IKBKB</div>
<div class="a rl" style="left:90.69px;top:181.01px">KLHL6</div>
<div class="a rl" style="left:96.98px;top:187.91px">BRAF</div>
<div class="a rl" style="left:105.14px;top:194.80px">PTPN11</div>
<div class="a rl" style="left:111.86px;top:201.70px">TP53</div>
<div class="a rl" style="left:120.13px;top:208.59px">ARID1A</div>
<div class="a rl" style="left:125.87px;top:215.49px">BCL6</div>
<div class="a rl" style="left:132.85px;top:222.38px">CARD11</div>
<div class="a rl" style="left:138.83px;top:229.28px">TNFRSF14</div>
<div class="a rl" style="left:145.85px;top:236.17px">TBL1XR1</div>
<div class="a rl" style="left:152.08px;top:243.07px">IGLL5</div>
<div class="a rl" style="left:158.98px;top:249.96px">POT1</div>
<div class="a rl" style="left:166.38px;top:256.86px">ATM</div>
<div class="a rl" style="left:172.95px;top:263.75px">TRRAP</div>
<div class="a rl" style="left:181.13px;top:270.65px">SIN3A</div>
<div class="a rl" style="left:186.58px;top:277.54px">MYD88</div>
<div class="a rl" style="left:193.79px;top:284.44px">BIRC3</div>
<div class="a rl" style="left:203.62px;top:291.33px">FBXW7</div>
<div class="a rl" style="left:206.50px;top:298.23px">RBMX</div>
<div class="a rl" style="left:213.97px;top:305.12px">IRF4</div>
<div class="a rl" style="left:220.97px;top:312.02px">CHD2</div>
<div class="a rl" style="left:228.23px;top:318.91px">SAMHD1</div>
<div class="a rl" style="left:233.79px;top:325.81px">CD36</div>
<div class="a rl" style="left:241.15px;top:332.70px">BCOR</div>
<div class="a rl" style="left:249.37px;top:339.60px">MED12</div>
<div class="a rl" style="left:257.47px;top:346.49px">HIST1H1E</div>
<div class="a rl" style="left:263.13px;top:353.39px">IRF8</div>
<div class="a rl" style="left:271.67px;top:360.28px">MGA</div>
<div class="a rl" style="left:278.87px;top:367.18px">CIITA</div>
<div class="a rl" style="left:284.14px;top:374.07px">WHSC1</div>
<div class="a rl" style="left:291.55px;top:380.97px">CDKN2A</div>
<div class="a rl" style="left:298.35px;top:387.86px">EP300</div>
<div class="a rl" style="left:305.03px;top:394.76px">CXCR4</div>
<div class="a rl" style="left:311.55px;top:401.65px">ITPKB</div>
<div class="a rl" style="left:318.99px;top:408.55px">ZMYM3</div>
<div class="a rl" style="left:325.64px;top:415.44px">CD58</div>
<div class="a rl" style="left:331.61px;top:422.34px">CHEK2</div>
<div class="a rl" style="left:339.21px;top:429.23px">EGR2</div>
<div class="a rl" style="left:345.79px;top:436.13px">TRAF3</div>
<div class="a rl" style="left:353.67px;top:443.02px">PIK3CA</div>
<div class="a rl" style="left:357.57px;top:449.92px">MAP3K14</div>
<div class="a cl" style="left:44.56px;top:38.70px">SPEN</div>
<div class="a cl" style="left:51.33px;top:38.70px">KMT2D</div>
<div class="a cl" style="left:58.10px;top:38.70px">TNFAIP3</div>
<div class="a cl" style="left:64.87px;top:38.70px">NOTCH2</div>
<div class="a cl" style="left:71.64px;top:38.70px">KLF2</div>
<div class="a cl" style="left:78.41px;top:38.70px">CCND3</div>
<div class="a cl" style="left:85.18px;top:38.70px">ASXL1</div>
<div class="a cl" style="left:91.95px;top:38.70px">XPO1</div>
<div class="a cl" style="left:98.72px;top:38.70px">ID3</div>
<div class="a cl" style="left:105.49px;top:38.70px">BCL7A</div>
<div class="a cl" style="left:112.26px;top:38.70px">B2M</div>
<div class="a cl" style="left:119.03px;top:38.70px">NOTCH1</div>
<div class="a cl" style="left:125.80px;top:38.70px">DTX1</div>
<div class="a cl" style="left:132.57px;top:38.70px">CREBBP</div>
<div class="a cl" style="left:139.34px;top:38.70px">ATRX</div>
<div class="a cl" style="left:146.11px;top:38.70px">TET2</div>
<div class="a cl" style="left:152.88px;top:38.70px">FBXO11</div>
<div class="a cl" style="left:159.65px;top:38.70px">PAX5</div>
<div class="a cl" style="left:166.42px;top:38.70px">NFKBIE</div>
<div class="a cl" style="left:173.19px;top:38.70px">IKBKB</div>
<div class="a cl" style="left:179.96px;top:38.70px">KLHL6</div>
<div class="a cl" style="left:186.73px;top:38.70px">BRAF</div>
<div class="a cl" style="left:193.50px;top:38.70px">PTPN11</div>
<div class="a cl" style="left:200.27px;top:38.70px">TP53</div>
<div class="a cl" style="left:207.04px;top:38.70px">ARID1A</div>
<div class="a cl" style="left:213.81px;top:38.70px">BCL6</div>
<div class="a cl" style="left:220.58px;top:38.70px">CARD11</div>
<div class="a cl" style="left:227.35px;top:38.70px">TNFRSF14</div>
<div class="a cl" style="left:234.12px;top:38.70px">TBL1XR1</div>
<div class="a cl" style="left:240.89px;top:38.70px">IGLL5</div>
<div class="a cl" style="left:247.66px;top:38.70px">POT1</div>
<div class="a cl" style="left:254.43px;top:38.70px">ATM</div>
<div class="a cl" style="left:261.20px;top:38.70px">TRRAP</div>
<div class="a cl" style="left:267.97px;top:38.70px">SIN3A</div>
<div class="a cl" style="left:274.74px;top:38.70px">MYD88</div>
<div class="a cl" style="left:281.51px;top:38.70px">BIRC3</div>
<div class="a cl" style="left:288.28px;top:38.70px">FBXW7</div>
<div class="a cl" style="left:295.05px;top:38.70px">RBMX</div>
<div class="a cl" style="left:301.82px;top:38.70px">IRF4</div>
<div class="a cl" style="left:308.59px;top:38.70px">CHD2</div>
<div class="a cl" style="left:315.36px;top:38.70px">SAMHD1</div>
<div class="a cl" style="left:322.13px;top:38.70px">CD36</div>
<div class="a cl" style="left:328.90px;top:38.70px">BCOR</div>
<div class="a cl" style="left:335.67px;top:38.70px">MED12</div>
<div class="a cl" style="left:342.44px;top:38.70px">HIST1H1E</div>
<div class="a cl" style="left:349.21px;top:38.70px">IRF8</div>
<div class="a cl" style="left:355.98px;top:38.70px">MGA</div>
<div class="a cl" style="left:362.75px;top:38.70px">CIITA</div>
<div class="a cl" style="left:369.52px;top:38.70px">WHSC1</div>
<div class="a cl" style="left:376.29px;top:38.70px">CDKN2A</div>
<div class="a cl" style="left:383.06px;top:38.70px">EP300</div>
<div class="a cl" style="left:389.83px;top:38.70px">CXCR4</div>
<div class="a cl" style="left:396.60px;top:38.70px">ITPKB</div>
<div class="a cl" style="left:403.37px;top:38.70px">ZMYM3</div>
<div class="a cl" style="left:410.14px;top:38.70px">CD58</div>
<div class="a cl" style="left:416.91px;top:38.70px">CHEK2</div>
<div class="a cl" style="left:423.68px;top:38.70px">EGR2</div>
<div class="a cl" style="left:430.45px;top:38.70px">TRAF3</div>
<div class="a cl" style="left:437.22px;top:38.70px">PIK3CA</div>
<div class="a cl" style="left:443.99px;top:38.70px">MAP3K14</div>
<div class="a" style="left:456.7px;top:41.9px;width:17px;height:13.7px"></div>
<div class="a" style="left:456.7px;top:41.8px;width:16.2px;height:413.8px;border:2px solid #111;background:linear-gradient(to bottom,#b71c2a 0.0%,#c6282e 10.0%,#d04848 20.0%,#d86c6e 30.0%,#e19496 40.0%,#e9b9ba 50.0%,#f2d8d8 60.0%,#fdfcfc 70.0%,#e2e2f1 80.0%,#bcbcde 90.0%,#9493ca 100.0%)"></div>
<div class="a" style="left:472.6px;top:42.40px;width:3.7px;height:1.8px;background:#111"></div>
<div class="a tk" style="left:468.90px;top:40.43px">0.43</div>
<div class="a" style="left:472.6px;top:83.54px;width:3.7px;height:1.8px;background:#111"></div>
<div class="a tk" style="left:468.90px;top:81.57px">0.37</div>
<div class="a" style="left:472.6px;top:124.68px;width:3.7px;height:1.8px;background:#111"></div>
<div class="a tk" style="left:468.90px;top:122.71px">0.31</div>
<div class="a" style="left:472.6px;top:165.82px;width:3.7px;height:1.8px;background:#111"></div>
<div class="a tk" style="left:468.90px;top:163.85px">0.25</div>
<div class="a" style="left:472.6px;top:206.96px;width:3.7px;height:1.8px;background:#111"></div>
<div class="a tk" style="left:468.90px;top:204.99px">0.19</div>
<div class="a" style="left:472.6px;top:248.10px;width:3.7px;height:1.8px;background:#111"></div>
<div class="a tk" style="left:468.90px;top:246.13px">0.13</div>
<div class="a" style="left:472.6px;top:289.24px;width:3.7px;height:1.8px;background:#111"></div>
<div class="a tk" style="left:468.90px;top:287.27px">0.07</div>
<div class="a" style="left:472.6px;top:330.38px;width:3.7px;height:1.8px;background:#111"></div>
<div class="a tk" style="left:468.90px;top:328.41px">0.01</div>
<div class="a" style="left:472.6px;top:371.52px;width:3.7px;height:1.8px;background:#111"></div>
<div class="a tk" style="left:468.90px;top:369.55px">–0.05</div>
<div class="a" style="left:472.6px;top:412.66px;width:3.7px;height:1.8px;background:#111"></div>
<div class="a tk" style="left:468.90px;top:410.69px">–0.11</div>
<div class="a" style="left:472.6px;top:453.80px;width:3.7px;height:1.8px;background:#111"></div>
<div class="a tk" style="left:468.90px;top:451.83px">–0.17</div>
<div class="a tt" style="left:39.10px;top:472.38px">Epigenetic (45%)</div>
<div class="a gl" style="left:-21.80px;top:482.26px">KMT2D</div>
<div class="a gl" style="left:-21.80px;top:487.89px">ARID1A</div>
<div class="a gl" style="left:-21.80px;top:493.52px">EP300</div>
<div class="a gl" style="left:-21.80px;top:499.15px">CREBBP</div>
<div class="a gl" style="left:-21.80px;top:504.78px">TBL1XR1</div>
<div class="a gl" style="left:-21.80px;top:510.41px">SIN3A</div>
<div class="a gl" style="left:-21.80px;top:516.04px">TET2</div>
<div class="a gl" style="left:-21.80px;top:521.67px">CHD2</div>
<div class="a gl" style="left:-21.80px;top:527.30px">ZMYM3</div>
<div class="a gl" style="left:-21.80px;top:532.93px">ATRX</div>
<div class="a gl" style="left:-21.80px;top:538.56px">WHSC1</div>
<div class="a gl" style="left:-21.80px;top:544.19px">HIST1H1E</div>
<div class="a gl" style="left:-21.80px;top:549.82px">ASXL1</div>
<div class="a gl" style="left:-21.80px;top:555.45px">BCL7A</div>
<div class="a gl" style="left:-21.80px;top:561.08px">TRRAP</div>
<div class="a gl" style="left:-21.80px;top:566.71px">SETD2</div>
<div class="a gl" style="left:-21.80px;top:572.34px">EZH2</div>
<div class="a gl" style="left:-21.80px;top:577.97px">HIST1H3B</div>
<div class="a gl" style="left:-21.80px;top:583.60px">BAZ2A</div>
<div class="a gl" style="left:-21.80px;top:589.23px">HIST1H1C</div>
<div class="a tt" style="left:39.10px;top:598.38px">NOTCH (42%)</div>
<div class="a gl" style="left:-21.80px;top:608.21px">NOTCH2</div>
<div class="a gl" style="left:-21.80px;top:614.56px">NOTCH1</div>
<div class="a gl" style="left:-21.80px;top:620.91px">SPEN</div>
<div class="a gl" style="left:-21.80px;top:627.26px">FBXW7</div>
<div class="a gl" style="left:-21.80px;top:633.61px">DTX1</div>
<div class="a tt" style="left:39.10px;top:642.88px">NF-κB (36%)</div>
<div class="a gl" style="left:-21.80px;top:652.91px">TNFAIP3</div>
<div class="a gl" style="left:-21.80px;top:658.68px">TRAF3</div>
<div class="a gl" style="left:-21.80px;top:664.45px">CARD11</div>
<div class="a gl" style="left:-21.80px;top:670.22px">BIRC3</div>
<div class="a gl" style="left:-21.80px;top:675.99px">NFKBIE</div>
<div class="a gl" style="left:-21.80px;top:681.76px">IKBKB</div>
<div class="a gl" style="left:-21.80px;top:687.53px">MAP3K14</div>
<div class="a gl" style="left:-21.80px;top:693.30px">TRAF2</div>
<div class="a gl" style="left:-21.80px;top:699.07px">RIPK1</div>
<div class="a tt" style="left:211.20px;top:472.38px">DNA damage (19%)</div>
<div class="a gl" style="left:151.70px;top:481.71px">TP53</div>
<div class="a gl" style="left:151.70px;top:488.59px">ATM</div>
<div class="a gl" style="left:151.70px;top:495.46px">SAMHD1</div>
<div class="a gl" style="left:151.70px;top:502.34px">CHEK2</div>
<div class="a gl" style="left:151.70px;top:509.21px">BRCC3</div>
<div class="a tt" style="left:211.60px;top:528.38px">Immune escape (9%)</div>
<div class="a gl" style="left:151.70px;top:537.91px">TNFRSF14</div>
<div class="a gl" style="left:151.70px;top:543.79px">CD36</div>
<div class="a gl" style="left:151.70px;top:549.67px">CIITA</div>
<div class="a gl" style="left:151.70px;top:555.55px">CD58</div>
<div class="a gl" style="left:151.70px;top:561.43px">B2M</div>
<div class="a gl" style="left:151.70px;top:567.31px">CD70</div>
<div class="a tt" style="left:211.70px;top:585.88px">Cell cycle (6%)</div>
<div class="a gl" style="left:151.70px;top:595.61px">CCND3</div>
<div class="a gl" style="left:151.70px;top:601.89px">CDKN2A</div>
<div class="a gl" style="left:151.70px;top:608.17px">CDKN1B</div>
<div class="a gl" style="left:151.70px;top:614.45px">CCND1</div>
<div class="a gl" style="left:151.70px;top:620.73px">CCND2</div>
<div class="a gl" style="left:151.70px;top:627.01px">CDKN1A</div>
<div class="a gl" style="left:151.70px;top:633.29px">CDKN1B</div>
<div class="a tt" style="left:211.70px;top:651.68px">MAPK (5%)</div>
<div class="a gl" style="left:151.70px;top:661.41px">BRAF</div>
<div class="a gl" style="left:151.70px;top:667.66px">PTPN11</div>
<div class="a gl" style="left:151.70px;top:673.91px">MAP2K1</div>
<div class="a gl" style="left:151.70px;top:680.16px">KRAS</div>
<div class="a gl" style="left:151.70px;top:686.41px">NRAS</div>
<div class="a gl" style="left:151.70px;top:692.66px">GADD45B</div>
<div class="a gl" style="left:151.70px;top:698.91px">RASFF1</div>
<div class="a tt" style="left:375.50px;top:472.58px">PI3K (4%)</div>
<div class="a gl" style="left:315.50px;top:482.11px">PIK3CA</div>
<div class="a gl" style="left:315.50px;top:488.74px">ITPKB</div>
<div class="a gl" style="left:315.50px;top:495.37px">RRAGC</div>
<div class="a gl" style="left:315.50px;top:502.00px">FOXO1</div>
<div class="a gl" style="left:315.50px;top:508.63px">P2RY8</div>
<div class="a gl" style="left:315.50px;top:515.26px">GNA13</div>
<div class="a gl" style="left:315.50px;top:521.89px">S1PR2</div>
<div class="a tt" style="left:375.50px;top:540.28px">JAK-STAT (2%)</div>
<div class="a gl" style="left:315.50px;top:550.21px">PTPRD</div>
<div class="a gl" style="left:315.50px;top:556.58px">STAT6</div>
<div class="a gl" style="left:315.50px;top:562.95px">STAT3</div>
<div class="a gl" style="left:315.50px;top:569.32px">PTPN1</div>
<div class="a gl" style="left:315.50px;top:575.69px">SOCS1</div>
<div class="a tt" style="left:375.60px;top:593.88px">TLR (4%)</div>
<div class="a gl" style="left:315.50px;top:603.31px">MYD88</div>
<div class="a gl" style="left:315.50px;top:610.51px">IRAK1</div>
<div class="a tt" style="left:375.60px;top:628.88px">Spliceosome (2%)</div>
<div class="a gl" style="left:315.50px;top:638.31px">RBMX</div>
<div class="a gl" style="left:315.50px;top:645.86px">SF3B1</div>
<div class="a gl" style="left:315.50px;top:653.41px">NXF1</div>
<div class="a tt" style="left:375.60px;top:672.38px">BCR (0.6%)</div>
<div class="a gl" style="left:315.50px;top:680.81px">BTK</div>
<div class="a gl" style="left:315.50px;top:687.14px">CD79B</div>
<div class="a gl" style="left:315.50px;top:693.47px">CD79A</div>
<div class="a gl" style="left:315.50px;top:699.80px">PLCG2</div>
<svg class="a" style="left:0;top:0" width="520" height="712" viewBox="0 0 520 712"><rect x="41.00" y="483.10" width="136.20" height="111.10" fill="#d7d9d9"/><rect x="41.00" y="483.10" width="21.00" height="5.56" fill="#c8202e"/><rect x="62.00" y="488.66" width="8.50" height="5.56" fill="#c8202e"/><rect x="70.50" y="494.21" width="6.00" height="5.56" fill="#c8202e"/><rect x="76.50" y="499.77" width="5.90" height="5.56" fill="#c8202e"/><rect x="82.40" y="505.32" width="3.60" height="5.56" fill="#c8202e"/><rect x="45.80" y="505.32" width="4.00" height="5.56" fill="#c8202e"/><rect x="86.20" y="510.88" width="4.00" height="5.56" fill="#c8202e"/><rect x="90.10" y="516.43" width="1.70" height="5.56" fill="#c8202e"/><rect x="91.80" y="521.99" width="3.50" height="5.56" fill="#c8202e"/><rect x="94.80" y="527.54" width="2.20" height="5.56" fill="#c8202e"/><rect x="95.80" y="533.10" width="1.70" height="5.56" fill="#c8202e"/><rect x="96.80" y="538.65" width="2.50" height="5.56" fill="#c8202e"/><rect x="97.80" y="544.21" width="1.50" height="5.56" fill="#c8202e" fill-opacity="0.50"/><rect x="98.30" y="549.76" width="2.20" height="5.56" fill="#c8202e" fill-opacity="0.90"/><rect x="99.20" y="555.32" width="2.00" height="5.56" fill="#c8202e" fill-opacity="0.90"/><rect x="99.70" y="560.87" width="2.00" height="5.56" fill="#c8202e" fill-opacity="0.90"/><rect x="100.20" y="566.43" width="1.80" height="5.56" fill="#c8202e" fill-opacity="0.80"/><rect x="100.70" y="571.98" width="1.80" height="5.56" fill="#c8202e" fill-opacity="0.60"/><rect x="101.20" y="583.09" width="1.50" height="5.56" fill="#c8202e" fill-opacity="0.50"/><rect x="41.00" y="488.66" width="1.40" height="5.56" fill="#c8202e"/><rect x="42.20" y="494.21" width="1.40" height="5.56" fill="#c8202e"/><rect x="43.40" y="499.77" width="1.40" height="5.56" fill="#c8202e"/><rect x="42.20" y="510.88" width="1.00" height="5.56" fill="#c8202e" fill-opacity="0.50"/><rect x="43.00" y="516.43" width="1.00" height="5.56" fill="#c8202e" fill-opacity="0.50"/><rect x="43.60" y="521.99" width="1.00" height="5.56" fill="#c8202e" fill-opacity="0.50"/><rect x="44.50" y="527.54" width="1.00" height="5.56" fill="#c8202e" fill-opacity="0.50"/><rect x="44.00" y="533.10" width="1.00" height="5.56" fill="#c8202e" fill-opacity="0.50"/><rect x="61.60" y="488.66" width="1.20" height="27.78" fill="#c8202e" fill-opacity="0.80"/><rect x="61.80" y="527.54" width="1.20" height="11.11" fill="#c8202e" fill-opacity="0.50"/><rect x="70.30" y="499.77" width="1.10" height="5.56" fill="#c8202e" fill-opacity="0.50"/><rect x="70.30" y="516.43" width="1.10" height="5.56" fill="#c8202e" fill-opacity="0.50"/><rect x="70.30" y="527.54" width="1.10" height="5.56" fill="#c8202e" fill-opacity="0.50"/><rect x="76.40" y="516.43" width="1.20" height="5.56" fill="#c8202e" fill-opacity="0.50"/><rect x="76.40" y="533.10" width="1.20" height="5.56" fill="#c8202e" fill-opacity="0.50"/><rect x="81.70" y="510.88" width="1.10" height="5.56" fill="#c8202e" fill-opacity="0.50"/><rect x="49.40" y="544.21" width="1.40" height="5.56" fill="#c8202e" fill-opacity="0.90"/><rect x="41.20" y="555.32" width="1.10" height="5.56" fill="#c8202e" fill-opacity="0.90"/><rect x="50.40" y="555.32" width="1.10" height="5.56" fill="#c8202e" fill-opacity="0.50"/><rect x="63.60" y="560.87" width="1.20" height="5.56" fill="#c8202e" fill-opacity="0.50"/><rect x="70.30" y="560.87" width="1.20" height="5.56" fill="#c8202e" fill-opacity="0.50"/><rect x="71.20" y="549.76" width="1.20" height="11.11" fill="#c8202e" fill-opacity="0.50"/><rect x="76.40" y="577.54" width="1.20" height="5.56" fill="#c8202e" fill-opacity="0.50"/><rect x="82.40" y="544.21" width="1.30" height="11.11" fill="#c8202e" fill-opacity="0.80"/><rect x="85.80" y="538.65" width="1.20" height="5.56" fill="#c8202e" fill-opacity="0.50"/><rect x="86.50" y="560.87" width="1.20" height="5.56" fill="#c8202e" fill-opacity="0.50"/><rect x="91.20" y="538.65" width="1.20" height="5.56" fill="#c8202e" fill-opacity="0.50"/><rect x="41.00" y="609.10" width="136.20" height="29.70" fill="#d7d9d9"/><rect x="41.00" y="609.10" width="33.60" height="5.94" fill="#c8202e"/><rect x="74.60" y="615.04" width="12.50" height="5.94" fill="#c8202e"/><rect x="87.10" y="620.98" width="6.30" height="5.94" fill="#c8202e"/><rect x="42.30" y="620.98" width="2.20" height="5.94" fill="#c8202e"/><rect x="93.40" y="626.92" width="3.10" height="5.94" fill="#c8202e"/><rect x="95.90" y="632.86" width="1.60" height="5.94" fill="#c8202e"/><rect x="75.00" y="632.86" width="2.00" height="5.94" fill="#c8202e"/><rect x="41.00" y="615.04" width="1.00" height="5.94" fill="#c8202e"/><rect x="41.00" y="653.60" width="136.20" height="50.70" fill="#d7d9d9"/><rect x="41.00" y="653.60" width="20.60" height="5.63" fill="#c8202e"/><rect x="61.60" y="659.23" width="9.40" height="5.63" fill="#c8202e"/><rect x="71.00" y="664.87" width="8.00" height="5.63" fill="#c8202e"/><rect x="79.00" y="670.50" width="4.50" height="5.63" fill="#c8202e"/><rect x="83.00" y="676.13" width="3.20" height="5.63" fill="#c8202e"/><rect x="85.80" y="681.77" width="2.70" height="5.63" fill="#c8202e"/><rect x="87.00" y="687.40" width="1.60" height="5.63" fill="#c8202e"/><rect x="87.60" y="693.03" width="1.40" height="5.63" fill="#c8202e"/><rect x="88.20" y="698.67" width="1.40" height="5.63" fill="#c8202e"/><rect x="41.00" y="659.23" width="2.20" height="11.27" fill="#c8202e"/><rect x="43.40" y="670.50" width="1.00" height="5.63" fill="#c8202e" fill-opacity="0.80"/><rect x="44.00" y="676.13" width="1.00" height="5.63" fill="#c8202e" fill-opacity="0.80"/><rect x="44.80" y="681.77" width="1.00" height="5.63" fill="#c8202e" fill-opacity="0.80"/><rect x="45.40" y="687.40" width="1.00" height="5.63" fill="#c8202e" fill-opacity="0.80"/><rect x="61.60" y="670.50" width="1.20" height="11.27" fill="#c8202e" fill-opacity="0.60"/><rect x="61.80" y="687.40" width="1.20" height="5.63" fill="#c8202e" fill-opacity="0.70"/><rect x="71.00" y="693.03" width="1.00" height="5.63" fill="#c8202e" fill-opacity="0.60"/><rect x="213.80" y="483.00" width="134.80" height="31.50" fill="#d7d9d9"/><rect x="213.80" y="483.00" width="13.00" height="6.30" fill="#c8202e"/><rect x="226.80" y="489.30" width="9.70" height="6.30" fill="#c8202e"/><rect x="236.50" y="495.60" width="2.30" height="6.30" fill="#c8202e"/><rect x="238.50" y="501.90" width="1.50" height="6.30" fill="#c8202e"/><rect x="226.80" y="501.90" width="1.00" height="6.30" fill="#c8202e" fill-opacity="0.80"/><rect x="239.20" y="508.20" width="1.50" height="6.30" fill="#c8202e"/><rect x="213.80" y="508.20" width="1.20" height="6.30" fill="#c8202e" fill-opacity="0.80"/><rect x="214.60" y="538.00" width="134.00" height="34.10" fill="#d7d9d9"/><rect x="214.60" y="538.00" width="3.80" height="5.68" fill="#c8202e"/><rect x="218.40" y="543.68" width="3.50" height="5.68" fill="#c8202e"/><rect x="221.50" y="549.37" width="3.20" height="5.68" fill="#c8202e"/><rect x="224.10" y="555.05" width="2.30" height="5.68" fill="#c8202e"/><rect x="225.30" y="560.73" width="1.70" height="5.68" fill="#c8202e"/><rect x="226.40" y="566.42" width="1.40" height="5.68" fill="#c8202e"/><rect x="214.60" y="555.05" width="1.00" height="11.37" fill="#c8202e" fill-opacity="0.80"/><rect x="214.80" y="596.50" width="133.80" height="42.20" fill="#d7d9d9"/><rect x="214.80" y="596.50" width="6.60" height="6.03" fill="#c8202e"/><rect x="221.20" y="602.53" width="1.70" height="6.03" fill="#c8202e"/><rect x="222.00" y="608.56" width="1.50" height="6.03" fill="#c8202e" fill-opacity="0.70"/><rect x="214.80" y="602.53" width="0.80" height="12.06" fill="#c8202e" fill-opacity="0.80"/><rect x="214.80" y="662.50" width="133.80" height="41.50" fill="#d7d9d9"/><rect x="214.80" y="662.50" width="3.50" height="5.93" fill="#c8202e"/><rect x="217.70" y="668.43" width="2.50" height="5.93" fill="#c8202e"/><rect x="219.80" y="674.36" width="1.40" height="5.93" fill="#c8202e" fill-opacity="0.80"/><rect x="220.20" y="680.29" width="1.50" height="5.93" fill="#c8202e" fill-opacity="0.60"/><rect x="214.80" y="668.43" width="1.20" height="5.93" fill="#c8202e" fill-opacity="0.90"/><rect x="215.40" y="686.21" width="1.40" height="5.93" fill="#c8202e" fill-opacity="0.50"/><rect x="378.50" y="483.50" width="134.00" height="43.70" fill="#d7d9d9"/><rect x="378.50" y="483.50" width="2.20" height="6.24" fill="#c8202e"/><rect x="380.40" y="489.74" width="1.40" height="6.24" fill="#c8202e"/><rect x="381.50" y="495.99" width="1.10" height="6.24" fill="#c8202e"/><rect x="382.00" y="502.23" width="1.20" height="6.24" fill="#c8202e" fill-opacity="0.80"/><rect x="382.80" y="508.47" width="1.00" height="6.24" fill="#c8202e" fill-opacity="0.60"/><rect x="378.50" y="551.20" width="134.00" height="29.60" fill="#d7d9d9"/><rect x="378.50" y="551.20" width="1.40" height="5.92" fill="#c8202e"/><rect x="379.60" y="557.12" width="1.10" height="5.92" fill="#c8202e" fill-opacity="0.80"/><rect x="380.40" y="563.04" width="0.90" height="5.92" fill="#c8202e" fill-opacity="0.70"/><rect x="380.90" y="568.96" width="0.90" height="5.92" fill="#c8202e" fill-opacity="0.70"/><rect x="378.70" y="604.80" width="133.80" height="10.80" fill="#d7d9d9"/><rect x="378.70" y="604.80" width="4.30" height="5.40" fill="#c8202e"/><rect x="382.30" y="610.20" width="1.30" height="5.40" fill="#c8202e" fill-opacity="0.60"/><rect x="378.70" y="639.60" width="133.80" height="19.40" fill="#d7d9d9"/><rect x="378.70" y="639.60" width="2.50" height="6.47" fill="#c8202e"/><rect x="380.20" y="646.07" width="1.00" height="6.47" fill="#c8202e" fill-opacity="0.70"/><rect x="381.00" y="652.53" width="1.10" height="6.47" fill="#c8202e" fill-opacity="0.70"/><rect x="378.70" y="682.90" width="133.80" height="20.80" fill="#d7d9d9"/><rect x="378.50" y="682.90" width="1.00" height="5.20" fill="#c8202e" fill-opacity="0.70"/><rect x="379.20" y="688.10" width="1.00" height="5.20" fill="#c8202e" fill-opacity="0.60"/></svg>
</body></html>
